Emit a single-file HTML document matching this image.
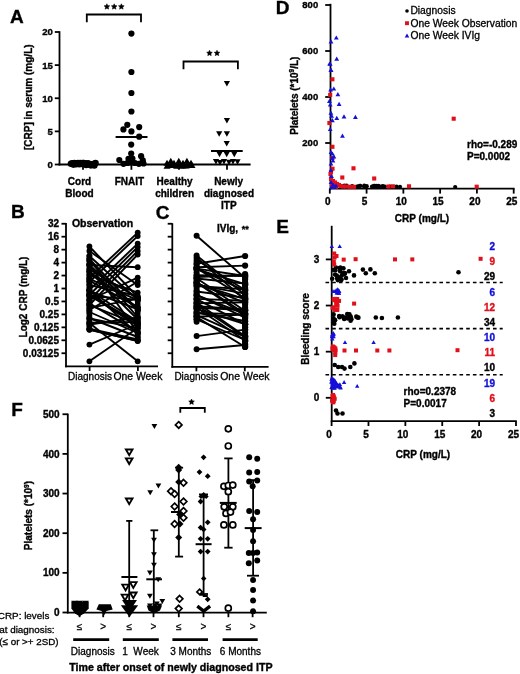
<!DOCTYPE html>
<html><head><meta charset="utf-8"><style>
html,body{margin:0;padding:0;background:#fff;}
svg{display:block;font-family:"Liberation Sans",sans-serif;}
</style></head><body>
<svg width="520" height="674" viewBox="0 0 520 674">
<rect width="520" height="674" fill="#fff"/>
<g style="filter:grayscale(0)">
<text x="10" y="22.9" text-anchor="start" font-size="19" font-weight="bold" fill="#000" stroke="#000" stroke-width="0.35">A</text>
<line x1="59.5" y1="31.2" x2="59.5" y2="165.4" stroke="#000" stroke-width="1.8"/>
<line x1="54.8" y1="164.5" x2="59.5" y2="164.5" stroke="#000" stroke-width="1.8"/>
<text x="52.8" y="167.9" text-anchor="end" font-size="9.6" font-weight="bold" fill="#000" stroke="#000" stroke-width="0.35">0</text>
<line x1="54.8" y1="131.38" x2="59.5" y2="131.38" stroke="#000" stroke-width="1.8"/>
<text x="52.8" y="134.78" text-anchor="end" font-size="9.6" font-weight="bold" fill="#000" stroke="#000" stroke-width="0.35">5</text>
<line x1="54.8" y1="98.25" x2="59.5" y2="98.25" stroke="#000" stroke-width="1.8"/>
<text x="52.8" y="101.65" text-anchor="end" font-size="9.6" font-weight="bold" fill="#000" stroke="#000" stroke-width="0.35">10</text>
<line x1="54.8" y1="65.12" x2="59.5" y2="65.12" stroke="#000" stroke-width="1.8"/>
<text x="52.8" y="68.53" text-anchor="end" font-size="9.6" font-weight="bold" fill="#000" stroke="#000" stroke-width="0.35">15</text>
<line x1="54.8" y1="32" x2="59.5" y2="32" stroke="#000" stroke-width="1.8"/>
<text x="52.8" y="35.4" text-anchor="end" font-size="9.6" font-weight="bold" fill="#000" stroke="#000" stroke-width="0.35">20</text>
<line x1="58.6" y1="164.5" x2="250.6" y2="164.5" stroke="#000" stroke-width="1.8"/>
<line x1="83" y1="164.5" x2="83" y2="169.8" stroke="#000" stroke-width="1.8"/>
<line x1="131.4" y1="164.5" x2="131.4" y2="169.8" stroke="#000" stroke-width="1.8"/>
<line x1="179" y1="164.5" x2="179" y2="169.8" stroke="#000" stroke-width="1.8"/>
<line x1="227" y1="164.5" x2="227" y2="169.8" stroke="#000" stroke-width="1.8"/>
<text x="79.5" y="185" text-anchor="middle" font-size="10" font-weight="bold" fill="#000" stroke="#000" stroke-width="0.35">Cord</text>
<text x="79.5" y="197" text-anchor="middle" font-size="10" font-weight="bold" fill="#000" stroke="#000" stroke-width="0.35">Blood</text>
<text x="129.4" y="185" text-anchor="middle" font-size="10" font-weight="bold" fill="#000" stroke="#000" stroke-width="0.35">FNAIT</text>
<text x="174.6" y="185" text-anchor="middle" font-size="10" font-weight="bold" fill="#000" stroke="#000" stroke-width="0.35">Healthy</text>
<text x="174.6" y="197" text-anchor="middle" font-size="10" font-weight="bold" fill="#000" stroke="#000" stroke-width="0.35">children</text>
<text x="228.6" y="185" text-anchor="middle" font-size="10" font-weight="bold" fill="#000" stroke="#000" stroke-width="0.35">Newly</text>
<text x="229" y="197" text-anchor="middle" font-size="10" font-weight="bold" fill="#000" stroke="#000" stroke-width="0.35">diagnosed</text>
<text x="228.8" y="209" text-anchor="middle" font-size="10" font-weight="bold" fill="#000" stroke="#000" stroke-width="0.35">ITP</text>
<text transform="translate(32,97.2) rotate(-90)" text-anchor="middle" font-size="10" font-weight="bold" stroke="#000" stroke-width="0.35">[CRP] in serum (mg/L)</text>
<polyline points="86.8,22.2 86.8,14.5 141,14.5 141,22.2" fill="none" stroke="#000" stroke-width="1.8"/>
<polygon points="106.9,3.75 107.75,5.59 109.75,5.82 108.27,7.19 108.66,9.18 106.9,8.19 105.14,9.18 105.53,7.19 104.05,5.82 106.05,5.59" fill="#000" stroke="#000" stroke-width="0.5" stroke-linejoin="round"/>
<polygon points="114.2,3.75 115.05,5.59 117.05,5.82 115.57,7.19 115.96,9.18 114.2,8.19 112.44,9.18 112.83,7.19 111.35,5.82 113.35,5.59" fill="#000" stroke="#000" stroke-width="0.5" stroke-linejoin="round"/>
<polygon points="121.35,3.75 122.2,5.59 124.2,5.82 122.72,7.19 123.11,9.18 121.35,8.19 119.59,9.18 119.98,7.19 118.5,5.82 120.5,5.59" fill="#000" stroke="#000" stroke-width="0.5" stroke-linejoin="round"/>
<polyline points="183.5,69.2 183.5,61.5 237.9,61.5 237.9,69.2" fill="none" stroke="#000" stroke-width="1.8"/>
<polygon points="209.5,50.2 210.35,52.04 212.35,52.27 210.87,53.64 211.26,55.63 209.5,54.64 207.74,55.63 208.13,53.64 206.65,52.27 208.65,52.04" fill="#000" stroke="#000" stroke-width="0.5" stroke-linejoin="round"/>
<polygon points="217,50.2 217.85,52.04 219.85,52.27 218.37,53.64 218.76,55.63 217,54.64 215.24,55.63 215.63,53.64 214.15,52.27 216.15,52.04" fill="#000" stroke="#000" stroke-width="0.5" stroke-linejoin="round"/>
<circle cx="71" cy="163.74" r="3.3" fill="#000"/>
<circle cx="72.17" cy="163.29" r="3.3" fill="#000"/>
<circle cx="73.33" cy="164.59" r="3.3" fill="#000"/>
<circle cx="74.5" cy="163.09" r="3.3" fill="#000"/>
<circle cx="75.67" cy="164.29" r="3.3" fill="#000"/>
<circle cx="76.83" cy="163.85" r="3.3" fill="#000"/>
<circle cx="78" cy="163.05" r="3.3" fill="#000"/>
<circle cx="79.17" cy="164.22" r="3.3" fill="#000"/>
<circle cx="80.33" cy="163" r="3.3" fill="#000"/>
<circle cx="81.5" cy="164.03" r="3.3" fill="#000"/>
<circle cx="82.67" cy="163.08" r="3.3" fill="#000"/>
<circle cx="83.83" cy="163.14" r="3.3" fill="#000"/>
<circle cx="85" cy="164" r="3.3" fill="#000"/>
<circle cx="86.17" cy="165.05" r="3.3" fill="#000"/>
<circle cx="87.33" cy="163.22" r="3.3" fill="#000"/>
<circle cx="88.5" cy="163.48" r="3.3" fill="#000"/>
<circle cx="89.67" cy="164.53" r="3.3" fill="#000"/>
<circle cx="90.83" cy="165.36" r="3.3" fill="#000"/>
<circle cx="92" cy="164.4" r="3.3" fill="#000"/>
<circle cx="93.17" cy="163.93" r="3.3" fill="#000"/>
<circle cx="94.33" cy="165.44" r="3.3" fill="#000"/>
<circle cx="95.5" cy="163.02" r="3.3" fill="#000"/>
<circle cx="131.4" cy="33.6" r="3.1" fill="#000"/>
<circle cx="131.4" cy="72" r="3.1" fill="#000"/>
<circle cx="131.4" cy="93" r="3.1" fill="#000"/>
<circle cx="131.4" cy="111.5" r="3.1" fill="#000"/>
<circle cx="127.3" cy="124.8" r="3.1" fill="#000"/>
<circle cx="139.2" cy="127.1" r="3.1" fill="#000"/>
<circle cx="123.4" cy="129.4" r="3.1" fill="#000"/>
<circle cx="131.4" cy="131.4" r="3.1" fill="#000"/>
<circle cx="139.2" cy="136.7" r="3.1" fill="#000"/>
<circle cx="131.2" cy="144.6" r="3.1" fill="#000"/>
<circle cx="131.2" cy="153.5" r="3.1" fill="#000"/>
<circle cx="141.1" cy="156.2" r="3.1" fill="#000"/>
<circle cx="119.3" cy="160" r="3.1" fill="#000"/>
<circle cx="128.5" cy="158.8" r="3.1" fill="#000"/>
<circle cx="132.4" cy="158.5" r="3.1" fill="#000"/>
<circle cx="142.8" cy="160.4" r="3.1" fill="#000"/>
<circle cx="123.5" cy="163.8" r="3.1" fill="#000"/>
<circle cx="127.4" cy="163" r="3.1" fill="#000"/>
<circle cx="135" cy="163" r="3.1" fill="#000"/>
<circle cx="138.9" cy="163.8" r="3.1" fill="#000"/>
<circle cx="131" cy="162.5" r="3.1" fill="#000"/>
<circle cx="143.5" cy="163.5" r="3.1" fill="#000"/>
<line x1="115.6" y1="136.9" x2="147.5" y2="136.9" stroke="#000" stroke-width="2"/>
<polygon points="163.5,168.78 170.5,168.78 167,162.69" fill="#000"/>
<polygon points="165.42,168.09 172.42,168.09 168.92,162" fill="#000"/>
<polygon points="167.35,167.92 174.35,167.92 170.85,161.83" fill="#000"/>
<polygon points="169.27,167.89 176.27,167.89 172.77,161.8" fill="#000"/>
<polygon points="171.19,168.12 178.19,168.12 174.69,162.03" fill="#000"/>
<polygon points="173.12,168.72 180.12,168.72 176.62,162.63" fill="#000"/>
<polygon points="175.04,167.96 182.04,167.96 178.54,161.87" fill="#000"/>
<polygon points="176.96,168.44 183.96,168.44 180.46,162.35" fill="#000"/>
<polygon points="178.88,168.51 185.88,168.51 182.38,162.42" fill="#000"/>
<polygon points="180.81,168.19 187.81,168.19 184.31,162.1" fill="#000"/>
<polygon points="182.73,168.4 189.73,168.4 186.23,162.31" fill="#000"/>
<polygon points="184.65,167.82 191.65,167.82 188.15,161.73" fill="#000"/>
<polygon points="186.58,167.82 193.58,167.82 190.08,161.73" fill="#000"/>
<polygon points="188.5,167.99 195.5,167.99 192,161.9" fill="#000"/>
<polygon points="167.3,163.84 174.3,163.84 170.8,157.76" fill="#000"/>
<polygon points="175.3,163.84 182.3,163.84 178.8,157.76" fill="#000"/>
<polygon points="183.4,163.84 190.4,163.84 186.9,157.76" fill="#000"/>
<polygon points="163.5,165.84 170.5,165.84 167,159.76" fill="#000"/>
<polygon points="170.5,165.84 177.5,165.84 174,159.76" fill="#000"/>
<polygon points="179.5,165.84 186.5,165.84 183,159.76" fill="#000"/>
<polygon points="187.5,165.84 194.5,165.84 191,159.76" fill="#000"/>
<polygon points="223.8,81 230,81 226.9,86.4" fill="#000"/>
<polygon points="223.8,118.1 230,118.1 226.9,123.5" fill="#000"/>
<polygon points="216.1,131.3 222.3,131.3 219.2,136.7" fill="#000"/>
<polygon points="223.8,131.3 230,131.3 226.9,136.7" fill="#000"/>
<polygon points="223.6,141.1 229.8,141.1 226.7,146.5" fill="#000"/>
<polygon points="216.4,151.8 222.6,151.8 219.5,157.2" fill="#000"/>
<polygon points="223.6,151.8 229.8,151.8 226.7,157.2" fill="#000"/>
<polygon points="231.2,151.8 237.4,151.8 234.3,157.2" fill="#000"/>
<polygon points="212.9,159.1 219.1,159.1 216,164.5" fill="#000"/>
<polygon points="216.9,160.1 223.1,160.1 220,165.5" fill="#000"/>
<polygon points="220.9,159.1 227.1,159.1 224,164.5" fill="#000"/>
<polygon points="225.9,159.8 232.1,159.8 229,165.2" fill="#000"/>
<polygon points="229.9,159.1 236.1,159.1 233,164.5" fill="#000"/>
<polygon points="234.4,159.3 240.6,159.3 237.5,164.7" fill="#000"/>
<line x1="211" y1="151" x2="242.7" y2="151" stroke="#000" stroke-width="2"/>
<text x="275.8" y="13.5" text-anchor="start" font-size="19" font-weight="bold" fill="#000" stroke="#000" stroke-width="0.35">D</text>
<line x1="330.5" y1="3.8" x2="330.5" y2="189.4" stroke="#000" stroke-width="1.8"/>
<line x1="325.2" y1="143" x2="330.5" y2="143" stroke="#000" stroke-width="1.8"/>
<text x="318.2" y="146.4" text-anchor="end" font-size="9.5" font-weight="bold" fill="#000" stroke="#000" stroke-width="0.35">200</text>
<line x1="325.2" y1="97" x2="330.5" y2="97" stroke="#000" stroke-width="1.8"/>
<text x="318.2" y="100.4" text-anchor="end" font-size="9.5" font-weight="bold" fill="#000" stroke="#000" stroke-width="0.35">400</text>
<line x1="325.2" y1="51" x2="330.5" y2="51" stroke="#000" stroke-width="1.8"/>
<text x="318.2" y="54.4" text-anchor="end" font-size="9.5" font-weight="bold" fill="#000" stroke="#000" stroke-width="0.35">600</text>
<line x1="325.2" y1="5" x2="330.5" y2="5" stroke="#000" stroke-width="1.8"/>
<text x="318.2" y="8.4" text-anchor="end" font-size="9.5" font-weight="bold" fill="#000" stroke="#000" stroke-width="0.35">800</text>
<line x1="329.6" y1="188.6" x2="514.6" y2="188.6" stroke="#000" stroke-width="1.8"/>
<line x1="329.8" y1="188.6" x2="329.8" y2="193.6" stroke="#000" stroke-width="1.8"/>
<text x="327.8" y="205.2" text-anchor="middle" font-size="10" font-weight="bold" fill="#000" stroke="#000" stroke-width="0.35">0</text>
<line x1="366.58" y1="188.6" x2="366.58" y2="193.6" stroke="#000" stroke-width="1.8"/>
<text x="364.58" y="205.2" text-anchor="middle" font-size="10" font-weight="bold" fill="#000" stroke="#000" stroke-width="0.35">5</text>
<line x1="403.36" y1="188.6" x2="403.36" y2="193.6" stroke="#000" stroke-width="1.8"/>
<text x="401.36" y="205.2" text-anchor="middle" font-size="10" font-weight="bold" fill="#000" stroke="#000" stroke-width="0.35">10</text>
<line x1="440.14" y1="188.6" x2="440.14" y2="193.6" stroke="#000" stroke-width="1.8"/>
<text x="438.14" y="205.2" text-anchor="middle" font-size="10" font-weight="bold" fill="#000" stroke="#000" stroke-width="0.35">15</text>
<line x1="476.92" y1="188.6" x2="476.92" y2="193.6" stroke="#000" stroke-width="1.8"/>
<text x="474.92" y="205.2" text-anchor="middle" font-size="10" font-weight="bold" fill="#000" stroke="#000" stroke-width="0.35">20</text>
<line x1="513.7" y1="188.6" x2="513.7" y2="193.6" stroke="#000" stroke-width="1.8"/>
<text x="511.7" y="205.2" text-anchor="middle" font-size="10" font-weight="bold" fill="#000" stroke="#000" stroke-width="0.35">25</text>
<text x="422" y="222.2" text-anchor="middle" font-size="10" font-weight="bold" fill="#000" stroke="#000" stroke-width="0.35">CRP (mg/L)</text>
<text transform="translate(297.6,95.6) rotate(-90)" text-anchor="middle" font-size="10" font-weight="bold" stroke="#000" stroke-width="0.35">Platelets (*10<tspan font-size="6.5" dy="-3.5">9</tspan><tspan dy="3.5">/L)</tspan></text>
<circle cx="407" cy="11" r="1.8" fill="#000"/>
<text x="410.4" y="14.3" text-anchor="start" font-size="10" font-weight="normal" fill="#000" stroke="#000" stroke-width="0.3" textLength="45.23" lengthAdjust="spacingAndGlyphs">Diagnosis</text>
<rect x="405.05" y="21.25" width="3.9" height="3.9" fill="#e0101a"/>
<text x="410.4" y="26.5" text-anchor="start" font-size="10" font-weight="normal" fill="#000" stroke="#000" stroke-width="0.3" textLength="106.86" lengthAdjust="spacingAndGlyphs">One Week Observation</text>
<polygon points="404.7,37.4 409.3,37.4 407,33.4" fill="#1410d8"/>
<text x="410.4" y="38.8" text-anchor="start" font-size="10" font-weight="normal" fill="#000" stroke="#000" stroke-width="0.3" textLength="69.65" lengthAdjust="spacingAndGlyphs">One Week IVIg</text>
<text x="467" y="147.5" text-anchor="start" font-size="10" font-weight="bold" fill="#000" stroke="#000" stroke-width="0.35">rho=-0.289</text>
<text x="467" y="159.6" text-anchor="start" font-size="10" font-weight="bold" fill="#000" stroke="#000" stroke-width="0.35">P=0.0002</text>
<circle cx="343.25" cy="186.43" r="2.1" fill="#000"/>
<circle cx="366.75" cy="186.17" r="2.1" fill="#000"/>
<circle cx="345.8" cy="186.55" r="2.1" fill="#000"/>
<circle cx="375.39" cy="186.21" r="2.1" fill="#000"/>
<circle cx="360.25" cy="185.88" r="2.1" fill="#000"/>
<circle cx="335.16" cy="186.05" r="2.1" fill="#000"/>
<circle cx="364.27" cy="185.68" r="2.1" fill="#000"/>
<circle cx="374.69" cy="185.88" r="2.1" fill="#000"/>
<circle cx="346.63" cy="185.65" r="2.1" fill="#000"/>
<circle cx="384.88" cy="186.49" r="2.1" fill="#000"/>
<circle cx="378.75" cy="186.34" r="2.1" fill="#000"/>
<circle cx="336.7" cy="185.99" r="2.1" fill="#000"/>
<circle cx="359.88" cy="185.74" r="2.1" fill="#000"/>
<circle cx="382.6" cy="186.04" r="2.1" fill="#000"/>
<circle cx="342.74" cy="186.58" r="2.1" fill="#000"/>
<circle cx="341.24" cy="186.71" r="2.1" fill="#000"/>
<circle cx="357.66" cy="186.26" r="2.1" fill="#000"/>
<circle cx="352.15" cy="186.18" r="2.1" fill="#000"/>
<circle cx="344.35" cy="185.64" r="2.1" fill="#000"/>
<circle cx="378.29" cy="185.88" r="2.1" fill="#000"/>
<circle cx="374.01" cy="185.85" r="2.1" fill="#000"/>
<circle cx="383.44" cy="186.67" r="2.1" fill="#000"/>
<circle cx="372.74" cy="186.52" r="2.1" fill="#000"/>
<circle cx="364.04" cy="186.48" r="2.1" fill="#000"/>
<circle cx="341.12" cy="186.17" r="2.1" fill="#000"/>
<circle cx="376.35" cy="185.84" r="2.1" fill="#000"/>
<circle cx="455.2" cy="187" r="2.1" fill="#000"/>
<circle cx="400" cy="186.8" r="2.1" fill="#000"/>
<circle cx="396.5" cy="186.6" r="2.1" fill="#000"/>
<circle cx="390" cy="186.6" r="2.1" fill="#000"/>
<circle cx="380" cy="186.6" r="2.1" fill="#000"/>
<circle cx="372" cy="186.6" r="2.1" fill="#000"/>
<circle cx="365" cy="186.5" r="2.1" fill="#000"/>
<rect x="330.35" y="77.25" width="4.1" height="4.1" fill="#e0101a"/>
<rect x="328.15" y="92.85" width="4.1" height="4.1" fill="#e0101a"/>
<rect x="327.35" y="120.95" width="4.1" height="4.1" fill="#e0101a"/>
<rect x="330.35" y="144.75" width="4.1" height="4.1" fill="#e0101a"/>
<rect x="330.35" y="155.95" width="4.1" height="4.1" fill="#e0101a"/>
<rect x="330.45" y="166.65" width="4.1" height="4.1" fill="#e0101a"/>
<rect x="328.95" y="169.75" width="4.1" height="4.1" fill="#e0101a"/>
<rect x="351.45" y="166.25" width="4.1" height="4.1" fill="#e0101a"/>
<rect x="340.25" y="175.45" width="4.1" height="4.1" fill="#e0101a"/>
<rect x="372.15" y="176.45" width="4.1" height="4.1" fill="#e0101a"/>
<rect x="451.65" y="116.65" width="4.1" height="4.1" fill="#e0101a"/>
<rect x="474.65" y="184.65" width="4.1" height="4.1" fill="#e0101a"/>
<rect x="390.85" y="184.25" width="4.1" height="4.1" fill="#e0101a"/>
<rect x="406.95" y="184.25" width="4.1" height="4.1" fill="#e0101a"/>
<rect x="386.45" y="184.45" width="4.1" height="4.1" fill="#e0101a"/>
<rect x="328.95" y="176.95" width="4.1" height="4.1" fill="#e0101a"/>
<rect x="330.95" y="178.95" width="4.1" height="4.1" fill="#e0101a"/>
<rect x="332.95" y="180.45" width="4.1" height="4.1" fill="#e0101a"/>
<rect x="334.95" y="181.95" width="4.1" height="4.1" fill="#e0101a"/>
<rect x="336.95" y="182.95" width="4.1" height="4.1" fill="#e0101a"/>
<rect x="338.95" y="183.95" width="4.1" height="4.1" fill="#e0101a"/>
<rect x="340.95" y="184.45" width="4.1" height="4.1" fill="#e0101a"/>
<rect x="329.95" y="182.95" width="4.1" height="4.1" fill="#e0101a"/>
<rect x="331.95" y="184.45" width="4.1" height="4.1" fill="#e0101a"/>
<rect x="328.45" y="171.95" width="4.1" height="4.1" fill="#e0101a"/>
<rect x="333.95" y="184.95" width="4.1" height="4.1" fill="#e0101a"/>
<rect x="343.95" y="184.45" width="4.1" height="4.1" fill="#e0101a"/>
<rect x="347.95" y="184.75" width="4.1" height="4.1" fill="#e0101a"/>
<rect x="351.95" y="184.75" width="4.1" height="4.1" fill="#e0101a"/>
<polygon points="333.9,39.59 338.7,39.59 336.3,35.41" fill="#1410d8"/>
<polygon points="328.6,43.39 333.4,43.39 331,39.21" fill="#1410d8"/>
<polygon points="334.3,60.79 339.1,60.79 336.7,56.61" fill="#1410d8"/>
<polygon points="327.2,65.59 332,65.59 329.6,61.41" fill="#1410d8"/>
<polygon points="328.6,72.09 333.4,72.09 331,67.91" fill="#1410d8"/>
<polygon points="331.4,90.59 336.2,90.59 333.8,86.41" fill="#1410d8"/>
<polygon points="335.5,96.29 340.3,96.29 337.9,92.11" fill="#1410d8"/>
<polygon points="328.2,91.49 333,91.49 330.6,87.31" fill="#1410d8"/>
<polygon points="327.8,65.79 332.6,65.79 330.2,61.61" fill="#1410d8"/>
<polygon points="328.5,71.69 333.3,71.69 330.9,67.51" fill="#1410d8"/>
<polygon points="327,102.89 331.8,102.89 329.4,98.71" fill="#1410d8"/>
<polygon points="327.8,106.59 332.6,106.59 330.2,102.41" fill="#1410d8"/>
<polygon points="336.7,105.89 341.5,105.89 339.1,101.71" fill="#1410d8"/>
<polygon points="328.5,114.79 333.3,114.79 330.9,110.61" fill="#1410d8"/>
<polygon points="329.2,117.69 334,117.69 331.6,113.51" fill="#1410d8"/>
<polygon points="334.4,119.99 339.2,119.99 336.8,115.81" fill="#1410d8"/>
<polygon points="341.6,118.49 346.4,118.49 344,114.31" fill="#1410d8"/>
<polygon points="353,118.89 357.8,118.89 355.4,114.71" fill="#1410d8"/>
<polygon points="330,122.19 334.8,122.19 332.4,118.01" fill="#1410d8"/>
<polygon points="327.8,131.09 332.6,131.09 330.2,126.91" fill="#1410d8"/>
<polygon points="340.1,137.79 344.9,137.79 342.5,133.61" fill="#1410d8"/>
<polygon points="330,155.59 334.8,155.59 332.4,151.41" fill="#1410d8"/>
<polygon points="331.5,158.49 336.3,158.49 333.9,154.31" fill="#1410d8"/>
<polygon points="328.6,154.09 333.4,154.09 331,149.91" fill="#1410d8"/>
<polygon points="329.6,160.09 334.4,160.09 332,155.91" fill="#1410d8"/>
<polygon points="328.6,165.59 333.4,165.59 331,161.41" fill="#1410d8"/>
<polygon points="329.1,178.09 333.9,178.09 331.5,173.91" fill="#1410d8"/>
<polygon points="328.6,184.09 333.4,184.09 331,179.91" fill="#1410d8"/>
<polygon points="330.6,186.59 335.4,186.59 333,182.41" fill="#1410d8"/>
<polygon points="329.1,189.09 333.9,189.09 331.5,184.91" fill="#1410d8"/>
<polygon points="332.1,189.09 336.9,189.09 334.5,184.91" fill="#1410d8"/>
<polygon points="333.6,187.59 338.4,187.59 336,183.41" fill="#1410d8"/>
<polygon points="328.6,172.09 333.4,172.09 331,167.91" fill="#1410d8"/>
<polygon points="330.6,162.59 335.4,162.59 333,158.41" fill="#1410d8"/>
<text x="11" y="217.9" text-anchor="start" font-size="19" font-weight="bold" fill="#000" stroke="#000" stroke-width="0.35">B</text>
<line x1="66" y1="223" x2="66" y2="367.2" stroke="#000" stroke-width="1.8"/>
<line x1="61.5" y1="223.75" x2="66" y2="223.75" stroke="#000" stroke-width="1.8"/>
<text x="59" y="227.35" text-anchor="end" font-size="10" font-weight="bold" fill="#000" stroke="#000" stroke-width="0.35">32</text>
<line x1="61.5" y1="236.7" x2="66" y2="236.7" stroke="#000" stroke-width="1.8"/>
<text x="59" y="240.3" text-anchor="end" font-size="10" font-weight="bold" fill="#000" stroke="#000" stroke-width="0.35">16</text>
<line x1="61.5" y1="249.65" x2="66" y2="249.65" stroke="#000" stroke-width="1.8"/>
<text x="59" y="253.25" text-anchor="end" font-size="10" font-weight="bold" fill="#000" stroke="#000" stroke-width="0.35">8</text>
<line x1="61.5" y1="262.6" x2="66" y2="262.6" stroke="#000" stroke-width="1.8"/>
<text x="59" y="266.2" text-anchor="end" font-size="10" font-weight="bold" fill="#000" stroke="#000" stroke-width="0.35">4</text>
<line x1="61.5" y1="275.55" x2="66" y2="275.55" stroke="#000" stroke-width="1.8"/>
<text x="59" y="279.15" text-anchor="end" font-size="10" font-weight="bold" fill="#000" stroke="#000" stroke-width="0.35">2</text>
<line x1="61.5" y1="288.5" x2="66" y2="288.5" stroke="#000" stroke-width="1.8"/>
<text x="59" y="292.1" text-anchor="end" font-size="10" font-weight="bold" fill="#000" stroke="#000" stroke-width="0.35">1</text>
<line x1="61.5" y1="301.45" x2="66" y2="301.45" stroke="#000" stroke-width="1.8"/>
<text x="59" y="305.05" text-anchor="end" font-size="10" font-weight="bold" fill="#000" stroke="#000" stroke-width="0.35">0.5</text>
<line x1="61.5" y1="314.4" x2="66" y2="314.4" stroke="#000" stroke-width="1.8"/>
<text x="59" y="318" text-anchor="end" font-size="10" font-weight="bold" fill="#000" stroke="#000" stroke-width="0.35">0.25</text>
<line x1="61.5" y1="327.35" x2="66" y2="327.35" stroke="#000" stroke-width="1.8"/>
<text x="59" y="330.95" text-anchor="end" font-size="10" font-weight="bold" fill="#000" stroke="#000" stroke-width="0.35">0.125</text>
<line x1="61.5" y1="340.3" x2="66" y2="340.3" stroke="#000" stroke-width="1.8"/>
<text x="59" y="343.9" text-anchor="end" font-size="10" font-weight="bold" fill="#000" stroke="#000" stroke-width="0.35">0.0625</text>
<line x1="61.5" y1="353.25" x2="66" y2="353.25" stroke="#000" stroke-width="1.8"/>
<text x="59" y="356.85" text-anchor="end" font-size="10" font-weight="bold" fill="#000" stroke="#000" stroke-width="0.35">0.03125</text>
<line x1="65.1" y1="366.3" x2="158" y2="366.3" stroke="#000" stroke-width="1.8"/>
<line x1="89.6" y1="366.3" x2="89.6" y2="371" stroke="#000" stroke-width="1.8"/>
<line x1="137.9" y1="366.3" x2="137.9" y2="371" stroke="#000" stroke-width="1.8"/>
<text x="68" y="380.4" text-anchor="start" font-size="10" font-weight="normal" fill="#000" stroke="#000" stroke-width="0.3">Diagnosis</text>
<text x="113.4" y="380.4" text-anchor="start" font-size="10" font-weight="normal" fill="#000" stroke="#000" stroke-width="0.3" textLength="48.94" lengthAdjust="spacingAndGlyphs">One Week</text>
<text x="71.9" y="226.5" text-anchor="start" font-size="10" font-weight="bold" fill="#000" stroke="#000" stroke-width="0.35" textLength="61.26" lengthAdjust="spacingAndGlyphs">Observation</text>
<text transform="translate(27.3,297) rotate(-90)" text-anchor="middle" font-size="10" font-weight="bold" stroke="#000" stroke-width="0.35">Log2 CRP (mg/L)</text>
<text x="155.8" y="219" text-anchor="start" font-size="19" font-weight="bold" fill="#000" stroke="#000" stroke-width="0.35">C</text>
<line x1="172.3" y1="223.2" x2="172.3" y2="367.7" stroke="#000" stroke-width="1.8"/>
<line x1="167.7" y1="223.75" x2="172.3" y2="223.75" stroke="#000" stroke-width="1.8"/>
<line x1="167.7" y1="236.7" x2="172.3" y2="236.7" stroke="#000" stroke-width="1.8"/>
<line x1="167.7" y1="249.65" x2="172.3" y2="249.65" stroke="#000" stroke-width="1.8"/>
<line x1="167.7" y1="262.6" x2="172.3" y2="262.6" stroke="#000" stroke-width="1.8"/>
<line x1="167.7" y1="275.55" x2="172.3" y2="275.55" stroke="#000" stroke-width="1.8"/>
<line x1="167.7" y1="288.5" x2="172.3" y2="288.5" stroke="#000" stroke-width="1.8"/>
<line x1="167.7" y1="301.45" x2="172.3" y2="301.45" stroke="#000" stroke-width="1.8"/>
<line x1="167.7" y1="314.4" x2="172.3" y2="314.4" stroke="#000" stroke-width="1.8"/>
<line x1="167.7" y1="327.35" x2="172.3" y2="327.35" stroke="#000" stroke-width="1.8"/>
<line x1="167.7" y1="340.3" x2="172.3" y2="340.3" stroke="#000" stroke-width="1.8"/>
<line x1="167.7" y1="353.25" x2="172.3" y2="353.25" stroke="#000" stroke-width="1.8"/>
<line x1="171.4" y1="366.8" x2="268.6" y2="366.8" stroke="#000" stroke-width="1.8"/>
<line x1="196.4" y1="366.8" x2="196.4" y2="371.3" stroke="#000" stroke-width="1.8"/>
<line x1="244.8" y1="366.8" x2="244.8" y2="371.3" stroke="#000" stroke-width="1.8"/>
<text x="174.4" y="380.4" text-anchor="start" font-size="10" font-weight="normal" fill="#000" stroke="#000" stroke-width="0.3">Diagnosis</text>
<text x="220.2" y="380.4" text-anchor="start" font-size="10" font-weight="normal" fill="#000" stroke="#000" stroke-width="0.3" textLength="49.41" lengthAdjust="spacingAndGlyphs">One Week</text>
<text x="217" y="232" text-anchor="start" font-size="10" font-weight="bold" fill="#000" stroke="#000" stroke-width="0.35">IVIg, </text>
<text x="241.8" y="232" text-anchor="start" font-size="9" font-weight="bold" fill="#000" stroke="#000" stroke-width="0.35">**</text>
<line x1="89.4" y1="278" x2="137.7" y2="232.6" stroke="#000" stroke-width="1.9"/>
<line x1="89.4" y1="282" x2="137.7" y2="236" stroke="#000" stroke-width="1.9"/>
<line x1="89.4" y1="290" x2="137.7" y2="243.6" stroke="#000" stroke-width="1.9"/>
<line x1="89.4" y1="295" x2="137.7" y2="247" stroke="#000" stroke-width="1.9"/>
<line x1="89.4" y1="300" x2="137.7" y2="251" stroke="#000" stroke-width="1.9"/>
<line x1="89.4" y1="305" x2="137.7" y2="254.5" stroke="#000" stroke-width="1.9"/>
<line x1="89.4" y1="246.5" x2="137.7" y2="297" stroke="#000" stroke-width="1.9"/>
<line x1="89.4" y1="251" x2="137.7" y2="285" stroke="#000" stroke-width="1.9"/>
<line x1="89.4" y1="256" x2="137.7" y2="300" stroke="#000" stroke-width="1.9"/>
<line x1="89.4" y1="259" x2="137.7" y2="310" stroke="#000" stroke-width="1.9"/>
<line x1="89.4" y1="265" x2="137.7" y2="267.2" stroke="#000" stroke-width="1.9"/>
<line x1="89.4" y1="300" x2="137.7" y2="277.6" stroke="#000" stroke-width="1.9"/>
<line x1="89.4" y1="310" x2="137.7" y2="281.7" stroke="#000" stroke-width="1.9"/>
<line x1="89.4" y1="275" x2="137.7" y2="292.6" stroke="#000" stroke-width="1.9"/>
<line x1="89.4" y1="285" x2="137.7" y2="296" stroke="#000" stroke-width="1.9"/>
<line x1="89.4" y1="361.3" x2="137.7" y2="328" stroke="#000" stroke-width="1.9"/>
<line x1="89.4" y1="344.6" x2="137.7" y2="324" stroke="#000" stroke-width="1.9"/>
<line x1="89.4" y1="323" x2="137.7" y2="361.3" stroke="#000" stroke-width="1.9"/>
<line x1="89.4" y1="329.6" x2="137.7" y2="341" stroke="#000" stroke-width="1.9"/>
<line x1="89.4" y1="322.7" x2="137.7" y2="322" stroke="#000" stroke-width="1.9"/>
<line x1="89.4" y1="318" x2="137.7" y2="337" stroke="#000" stroke-width="1.9"/>
<line x1="89.4" y1="312" x2="137.7" y2="333" stroke="#000" stroke-width="1.9"/>
<line x1="89.4" y1="290.57" x2="137.7" y2="321.63" stroke="#000" stroke-width="1.9"/>
<line x1="89.4" y1="324.54" x2="137.7" y2="317.49" stroke="#000" stroke-width="1.9"/>
<line x1="89.4" y1="294.56" x2="137.7" y2="322.84" stroke="#000" stroke-width="1.9"/>
<line x1="89.4" y1="271.3" x2="137.7" y2="319.52" stroke="#000" stroke-width="1.9"/>
<line x1="89.4" y1="303.35" x2="137.7" y2="331.89" stroke="#000" stroke-width="1.9"/>
<line x1="89.4" y1="264.78" x2="137.7" y2="310.35" stroke="#000" stroke-width="1.9"/>
<line x1="89.4" y1="264.53" x2="137.7" y2="332.62" stroke="#000" stroke-width="1.9"/>
<line x1="89.4" y1="307.93" x2="137.7" y2="298.84" stroke="#000" stroke-width="1.9"/>
<line x1="89.4" y1="328.72" x2="137.7" y2="339.45" stroke="#000" stroke-width="1.9"/>
<line x1="89.4" y1="305.08" x2="137.7" y2="324.08" stroke="#000" stroke-width="1.9"/>
<line x1="89.4" y1="269.34" x2="137.7" y2="297.66" stroke="#000" stroke-width="1.9"/>
<line x1="89.4" y1="296.04" x2="137.7" y2="299.62" stroke="#000" stroke-width="1.9"/>
<line x1="89.4" y1="271.69" x2="137.7" y2="307.65" stroke="#000" stroke-width="1.9"/>
<line x1="89.4" y1="260.17" x2="137.7" y2="317.41" stroke="#000" stroke-width="1.9"/>
<line x1="89.4" y1="289.72" x2="137.7" y2="334.07" stroke="#000" stroke-width="1.9"/>
<line x1="89.4" y1="295.38" x2="137.7" y2="325.17" stroke="#000" stroke-width="1.9"/>
<line x1="89.4" y1="293.98" x2="137.7" y2="326.15" stroke="#000" stroke-width="1.9"/>
<line x1="89.4" y1="290.93" x2="137.7" y2="309.24" stroke="#000" stroke-width="1.9"/>
<line x1="89.4" y1="329.83" x2="137.7" y2="340.81" stroke="#000" stroke-width="1.9"/>
<line x1="89.4" y1="318.5" x2="137.7" y2="328.14" stroke="#000" stroke-width="1.9"/>
<line x1="89.4" y1="280.7" x2="137.7" y2="307.11" stroke="#000" stroke-width="1.9"/>
<line x1="89.4" y1="278.81" x2="137.7" y2="300.09" stroke="#000" stroke-width="1.9"/>
<circle cx="89.4" cy="278" r="2.9" fill="#000"/>
<circle cx="137.7" cy="232.6" r="2.9" fill="#000"/>
<circle cx="89.4" cy="282" r="2.9" fill="#000"/>
<circle cx="137.7" cy="236" r="2.9" fill="#000"/>
<circle cx="89.4" cy="290" r="2.9" fill="#000"/>
<circle cx="137.7" cy="243.6" r="2.9" fill="#000"/>
<circle cx="89.4" cy="295" r="2.9" fill="#000"/>
<circle cx="137.7" cy="247" r="2.9" fill="#000"/>
<circle cx="89.4" cy="300" r="2.9" fill="#000"/>
<circle cx="137.7" cy="251" r="2.9" fill="#000"/>
<circle cx="89.4" cy="305" r="2.9" fill="#000"/>
<circle cx="137.7" cy="254.5" r="2.9" fill="#000"/>
<circle cx="89.4" cy="246.5" r="2.9" fill="#000"/>
<circle cx="137.7" cy="297" r="2.9" fill="#000"/>
<circle cx="89.4" cy="251" r="2.9" fill="#000"/>
<circle cx="137.7" cy="285" r="2.9" fill="#000"/>
<circle cx="89.4" cy="256" r="2.9" fill="#000"/>
<circle cx="137.7" cy="300" r="2.9" fill="#000"/>
<circle cx="89.4" cy="259" r="2.9" fill="#000"/>
<circle cx="137.7" cy="310" r="2.9" fill="#000"/>
<circle cx="89.4" cy="265" r="2.9" fill="#000"/>
<circle cx="137.7" cy="267.2" r="2.9" fill="#000"/>
<circle cx="89.4" cy="300" r="2.9" fill="#000"/>
<circle cx="137.7" cy="277.6" r="2.9" fill="#000"/>
<circle cx="89.4" cy="310" r="2.9" fill="#000"/>
<circle cx="137.7" cy="281.7" r="2.9" fill="#000"/>
<circle cx="89.4" cy="275" r="2.9" fill="#000"/>
<circle cx="137.7" cy="292.6" r="2.9" fill="#000"/>
<circle cx="89.4" cy="285" r="2.9" fill="#000"/>
<circle cx="137.7" cy="296" r="2.9" fill="#000"/>
<circle cx="89.4" cy="361.3" r="2.9" fill="#000"/>
<circle cx="137.7" cy="328" r="2.9" fill="#000"/>
<circle cx="89.4" cy="344.6" r="2.9" fill="#000"/>
<circle cx="137.7" cy="324" r="2.9" fill="#000"/>
<circle cx="89.4" cy="323" r="2.9" fill="#000"/>
<circle cx="137.7" cy="361.3" r="2.9" fill="#000"/>
<circle cx="89.4" cy="329.6" r="2.9" fill="#000"/>
<circle cx="137.7" cy="341" r="2.9" fill="#000"/>
<circle cx="89.4" cy="322.7" r="2.9" fill="#000"/>
<circle cx="137.7" cy="322" r="2.9" fill="#000"/>
<circle cx="89.4" cy="318" r="2.9" fill="#000"/>
<circle cx="137.7" cy="337" r="2.9" fill="#000"/>
<circle cx="89.4" cy="312" r="2.9" fill="#000"/>
<circle cx="137.7" cy="333" r="2.9" fill="#000"/>
<circle cx="89.4" cy="290.57" r="2.9" fill="#000"/>
<circle cx="137.7" cy="321.63" r="2.9" fill="#000"/>
<circle cx="89.4" cy="324.54" r="2.9" fill="#000"/>
<circle cx="137.7" cy="317.49" r="2.9" fill="#000"/>
<circle cx="89.4" cy="294.56" r="2.9" fill="#000"/>
<circle cx="137.7" cy="322.84" r="2.9" fill="#000"/>
<circle cx="89.4" cy="271.3" r="2.9" fill="#000"/>
<circle cx="137.7" cy="319.52" r="2.9" fill="#000"/>
<circle cx="89.4" cy="303.35" r="2.9" fill="#000"/>
<circle cx="137.7" cy="331.89" r="2.9" fill="#000"/>
<circle cx="89.4" cy="264.78" r="2.9" fill="#000"/>
<circle cx="137.7" cy="310.35" r="2.9" fill="#000"/>
<circle cx="89.4" cy="264.53" r="2.9" fill="#000"/>
<circle cx="137.7" cy="332.62" r="2.9" fill="#000"/>
<circle cx="89.4" cy="307.93" r="2.9" fill="#000"/>
<circle cx="137.7" cy="298.84" r="2.9" fill="#000"/>
<circle cx="89.4" cy="328.72" r="2.9" fill="#000"/>
<circle cx="137.7" cy="339.45" r="2.9" fill="#000"/>
<circle cx="89.4" cy="305.08" r="2.9" fill="#000"/>
<circle cx="137.7" cy="324.08" r="2.9" fill="#000"/>
<circle cx="89.4" cy="269.34" r="2.9" fill="#000"/>
<circle cx="137.7" cy="297.66" r="2.9" fill="#000"/>
<circle cx="89.4" cy="296.04" r="2.9" fill="#000"/>
<circle cx="137.7" cy="299.62" r="2.9" fill="#000"/>
<circle cx="89.4" cy="271.69" r="2.9" fill="#000"/>
<circle cx="137.7" cy="307.65" r="2.9" fill="#000"/>
<circle cx="89.4" cy="260.17" r="2.9" fill="#000"/>
<circle cx="137.7" cy="317.41" r="2.9" fill="#000"/>
<circle cx="89.4" cy="289.72" r="2.9" fill="#000"/>
<circle cx="137.7" cy="334.07" r="2.9" fill="#000"/>
<circle cx="89.4" cy="295.38" r="2.9" fill="#000"/>
<circle cx="137.7" cy="325.17" r="2.9" fill="#000"/>
<circle cx="89.4" cy="293.98" r="2.9" fill="#000"/>
<circle cx="137.7" cy="326.15" r="2.9" fill="#000"/>
<circle cx="89.4" cy="290.93" r="2.9" fill="#000"/>
<circle cx="137.7" cy="309.24" r="2.9" fill="#000"/>
<circle cx="89.4" cy="329.83" r="2.9" fill="#000"/>
<circle cx="137.7" cy="340.81" r="2.9" fill="#000"/>
<circle cx="89.4" cy="318.5" r="2.9" fill="#000"/>
<circle cx="137.7" cy="328.14" r="2.9" fill="#000"/>
<circle cx="89.4" cy="280.7" r="2.9" fill="#000"/>
<circle cx="137.7" cy="307.11" r="2.9" fill="#000"/>
<circle cx="89.4" cy="278.81" r="2.9" fill="#000"/>
<circle cx="137.7" cy="300.09" r="2.9" fill="#000"/>
<circle cx="89.4" cy="256" r="2.9" fill="#000"/>
<circle cx="89.4" cy="258.6" r="2.9" fill="#000"/>
<circle cx="89.4" cy="261.2" r="2.9" fill="#000"/>
<circle cx="89.4" cy="263.8" r="2.9" fill="#000"/>
<circle cx="89.4" cy="266.4" r="2.9" fill="#000"/>
<circle cx="89.4" cy="269" r="2.9" fill="#000"/>
<circle cx="89.4" cy="271.6" r="2.9" fill="#000"/>
<circle cx="89.4" cy="274.2" r="2.9" fill="#000"/>
<circle cx="89.4" cy="276.8" r="2.9" fill="#000"/>
<circle cx="89.4" cy="279.4" r="2.9" fill="#000"/>
<circle cx="89.4" cy="282" r="2.9" fill="#000"/>
<circle cx="89.4" cy="284.6" r="2.9" fill="#000"/>
<circle cx="89.4" cy="287.2" r="2.9" fill="#000"/>
<circle cx="89.4" cy="289.8" r="2.9" fill="#000"/>
<circle cx="89.4" cy="292.4" r="2.9" fill="#000"/>
<circle cx="89.4" cy="295" r="2.9" fill="#000"/>
<circle cx="89.4" cy="297.6" r="2.9" fill="#000"/>
<circle cx="89.4" cy="300.2" r="2.9" fill="#000"/>
<circle cx="89.4" cy="302.8" r="2.9" fill="#000"/>
<circle cx="89.4" cy="305.4" r="2.9" fill="#000"/>
<circle cx="89.4" cy="308" r="2.9" fill="#000"/>
<circle cx="89.4" cy="310.6" r="2.9" fill="#000"/>
<circle cx="89.4" cy="313.2" r="2.9" fill="#000"/>
<circle cx="89.4" cy="315.8" r="2.9" fill="#000"/>
<circle cx="89.4" cy="318.4" r="2.9" fill="#000"/>
<circle cx="89.4" cy="321" r="2.9" fill="#000"/>
<circle cx="89.4" cy="323.6" r="2.9" fill="#000"/>
<circle cx="89.4" cy="326.2" r="2.9" fill="#000"/>
<circle cx="89.4" cy="328.8" r="2.9" fill="#000"/>
<circle cx="137.7" cy="298" r="2.9" fill="#000"/>
<circle cx="137.7" cy="301" r="2.9" fill="#000"/>
<circle cx="137.7" cy="304" r="2.9" fill="#000"/>
<circle cx="137.7" cy="307" r="2.9" fill="#000"/>
<circle cx="137.7" cy="310" r="2.9" fill="#000"/>
<circle cx="137.7" cy="313" r="2.9" fill="#000"/>
<circle cx="137.7" cy="316" r="2.9" fill="#000"/>
<circle cx="137.7" cy="319" r="2.9" fill="#000"/>
<circle cx="137.7" cy="322" r="2.9" fill="#000"/>
<circle cx="137.7" cy="325" r="2.9" fill="#000"/>
<circle cx="137.7" cy="328" r="2.9" fill="#000"/>
<circle cx="137.7" cy="331" r="2.9" fill="#000"/>
<circle cx="137.7" cy="334" r="2.9" fill="#000"/>
<circle cx="137.7" cy="337" r="2.9" fill="#000"/>
<circle cx="137.7" cy="340" r="2.9" fill="#000"/>
<line x1="196.6" y1="235.8" x2="245.1" y2="278" stroke="#000" stroke-width="1.9"/>
<line x1="196.6" y1="255.4" x2="245.1" y2="295" stroke="#000" stroke-width="1.9"/>
<line x1="196.6" y1="257.8" x2="245.1" y2="300" stroke="#000" stroke-width="1.9"/>
<line x1="196.6" y1="263.8" x2="245.1" y2="256" stroke="#000" stroke-width="1.9"/>
<line x1="196.6" y1="267.3" x2="245.1" y2="265.6" stroke="#000" stroke-width="1.9"/>
<line x1="196.6" y1="336.1" x2="245.1" y2="329.6" stroke="#000" stroke-width="1.9"/>
<line x1="196.6" y1="349.2" x2="245.1" y2="345" stroke="#000" stroke-width="1.9"/>
<line x1="196.6" y1="319.4" x2="245.1" y2="340" stroke="#000" stroke-width="1.9"/>
<line x1="196.6" y1="277" x2="245.1" y2="275.1" stroke="#000" stroke-width="1.9"/>
<line x1="196.6" y1="260" x2="245.1" y2="290" stroke="#000" stroke-width="1.9"/>
<line x1="196.6" y1="299.15" x2="245.1" y2="324.33" stroke="#000" stroke-width="1.9"/>
<line x1="196.6" y1="307.76" x2="245.1" y2="340.57" stroke="#000" stroke-width="1.9"/>
<line x1="196.6" y1="304.99" x2="245.1" y2="337.04" stroke="#000" stroke-width="1.9"/>
<line x1="196.6" y1="269.45" x2="245.1" y2="284.14" stroke="#000" stroke-width="1.9"/>
<line x1="196.6" y1="315.17" x2="245.1" y2="336.83" stroke="#000" stroke-width="1.9"/>
<line x1="196.6" y1="313.05" x2="245.1" y2="314.35" stroke="#000" stroke-width="1.9"/>
<line x1="196.6" y1="291.45" x2="245.1" y2="297.82" stroke="#000" stroke-width="1.9"/>
<line x1="196.6" y1="295.19" x2="245.1" y2="314" stroke="#000" stroke-width="1.9"/>
<line x1="196.6" y1="268.66" x2="245.1" y2="276" stroke="#000" stroke-width="1.9"/>
<line x1="196.6" y1="281.97" x2="245.1" y2="313.8" stroke="#000" stroke-width="1.9"/>
<line x1="196.6" y1="306.29" x2="245.1" y2="309.35" stroke="#000" stroke-width="1.9"/>
<line x1="196.6" y1="307.86" x2="245.1" y2="310.13" stroke="#000" stroke-width="1.9"/>
<line x1="196.6" y1="298.87" x2="245.1" y2="300.69" stroke="#000" stroke-width="1.9"/>
<line x1="196.6" y1="268.09" x2="245.1" y2="298.2" stroke="#000" stroke-width="1.9"/>
<line x1="196.6" y1="278.47" x2="245.1" y2="283.66" stroke="#000" stroke-width="1.9"/>
<line x1="196.6" y1="317.12" x2="245.1" y2="347" stroke="#000" stroke-width="1.9"/>
<line x1="196.6" y1="282.47" x2="245.1" y2="316" stroke="#000" stroke-width="1.9"/>
<line x1="196.6" y1="294.96" x2="245.1" y2="317.72" stroke="#000" stroke-width="1.9"/>
<line x1="196.6" y1="278.24" x2="245.1" y2="311" stroke="#000" stroke-width="1.9"/>
<line x1="196.6" y1="302.53" x2="245.1" y2="336.26" stroke="#000" stroke-width="1.9"/>
<line x1="196.6" y1="312.69" x2="245.1" y2="321.04" stroke="#000" stroke-width="1.9"/>
<line x1="196.6" y1="286.06" x2="245.1" y2="289.37" stroke="#000" stroke-width="1.9"/>
<line x1="196.6" y1="275.29" x2="245.1" y2="276" stroke="#000" stroke-width="1.9"/>
<line x1="196.6" y1="283.07" x2="245.1" y2="302.99" stroke="#000" stroke-width="1.9"/>
<line x1="196.6" y1="268.17" x2="245.1" y2="290.93" stroke="#000" stroke-width="1.9"/>
<line x1="196.6" y1="284.89" x2="245.1" y2="293.67" stroke="#000" stroke-width="1.9"/>
<line x1="196.6" y1="308.93" x2="245.1" y2="324.19" stroke="#000" stroke-width="1.9"/>
<line x1="196.6" y1="283.79" x2="245.1" y2="299.08" stroke="#000" stroke-width="1.9"/>
<line x1="196.6" y1="303.23" x2="245.1" y2="302.4" stroke="#000" stroke-width="1.9"/>
<line x1="196.6" y1="316.75" x2="245.1" y2="314.62" stroke="#000" stroke-width="1.9"/>
<circle cx="196.6" cy="235.8" r="3" fill="#000"/>
<circle cx="245.1" cy="278" r="3.1" fill="#000"/>
<circle cx="196.6" cy="255.4" r="3" fill="#000"/>
<circle cx="245.1" cy="295" r="3.1" fill="#000"/>
<circle cx="196.6" cy="257.8" r="3" fill="#000"/>
<circle cx="245.1" cy="300" r="3.1" fill="#000"/>
<circle cx="196.6" cy="263.8" r="3" fill="#000"/>
<circle cx="245.1" cy="256" r="3.1" fill="#000"/>
<circle cx="196.6" cy="267.3" r="3" fill="#000"/>
<circle cx="245.1" cy="265.6" r="3.1" fill="#000"/>
<circle cx="196.6" cy="336.1" r="3" fill="#000"/>
<circle cx="245.1" cy="329.6" r="3.1" fill="#000"/>
<circle cx="196.6" cy="349.2" r="3" fill="#000"/>
<circle cx="245.1" cy="345" r="3.1" fill="#000"/>
<circle cx="196.6" cy="319.4" r="3" fill="#000"/>
<circle cx="245.1" cy="340" r="3.1" fill="#000"/>
<circle cx="196.6" cy="277" r="3" fill="#000"/>
<circle cx="245.1" cy="275.1" r="3.1" fill="#000"/>
<circle cx="196.6" cy="260" r="3" fill="#000"/>
<circle cx="245.1" cy="290" r="3.1" fill="#000"/>
<circle cx="196.6" cy="299.15" r="3" fill="#000"/>
<circle cx="245.1" cy="324.33" r="3.1" fill="#000"/>
<circle cx="196.6" cy="307.76" r="3" fill="#000"/>
<circle cx="245.1" cy="340.57" r="3.1" fill="#000"/>
<circle cx="196.6" cy="304.99" r="3" fill="#000"/>
<circle cx="245.1" cy="337.04" r="3.1" fill="#000"/>
<circle cx="196.6" cy="269.45" r="3" fill="#000"/>
<circle cx="245.1" cy="284.14" r="3.1" fill="#000"/>
<circle cx="196.6" cy="315.17" r="3" fill="#000"/>
<circle cx="245.1" cy="336.83" r="3.1" fill="#000"/>
<circle cx="196.6" cy="313.05" r="3" fill="#000"/>
<circle cx="245.1" cy="314.35" r="3.1" fill="#000"/>
<circle cx="196.6" cy="291.45" r="3" fill="#000"/>
<circle cx="245.1" cy="297.82" r="3.1" fill="#000"/>
<circle cx="196.6" cy="295.19" r="3" fill="#000"/>
<circle cx="245.1" cy="314" r="3.1" fill="#000"/>
<circle cx="196.6" cy="268.66" r="3" fill="#000"/>
<circle cx="245.1" cy="276" r="3.1" fill="#000"/>
<circle cx="196.6" cy="281.97" r="3" fill="#000"/>
<circle cx="245.1" cy="313.8" r="3.1" fill="#000"/>
<circle cx="196.6" cy="306.29" r="3" fill="#000"/>
<circle cx="245.1" cy="309.35" r="3.1" fill="#000"/>
<circle cx="196.6" cy="307.86" r="3" fill="#000"/>
<circle cx="245.1" cy="310.13" r="3.1" fill="#000"/>
<circle cx="196.6" cy="298.87" r="3" fill="#000"/>
<circle cx="245.1" cy="300.69" r="3.1" fill="#000"/>
<circle cx="196.6" cy="268.09" r="3" fill="#000"/>
<circle cx="245.1" cy="298.2" r="3.1" fill="#000"/>
<circle cx="196.6" cy="278.47" r="3" fill="#000"/>
<circle cx="245.1" cy="283.66" r="3.1" fill="#000"/>
<circle cx="196.6" cy="317.12" r="3" fill="#000"/>
<circle cx="245.1" cy="347" r="3.1" fill="#000"/>
<circle cx="196.6" cy="282.47" r="3" fill="#000"/>
<circle cx="245.1" cy="316" r="3.1" fill="#000"/>
<circle cx="196.6" cy="294.96" r="3" fill="#000"/>
<circle cx="245.1" cy="317.72" r="3.1" fill="#000"/>
<circle cx="196.6" cy="278.24" r="3" fill="#000"/>
<circle cx="245.1" cy="311" r="3.1" fill="#000"/>
<circle cx="196.6" cy="302.53" r="3" fill="#000"/>
<circle cx="245.1" cy="336.26" r="3.1" fill="#000"/>
<circle cx="196.6" cy="312.69" r="3" fill="#000"/>
<circle cx="245.1" cy="321.04" r="3.1" fill="#000"/>
<circle cx="196.6" cy="286.06" r="3" fill="#000"/>
<circle cx="245.1" cy="289.37" r="3.1" fill="#000"/>
<circle cx="196.6" cy="275.29" r="3" fill="#000"/>
<circle cx="245.1" cy="276" r="3.1" fill="#000"/>
<circle cx="196.6" cy="283.07" r="3" fill="#000"/>
<circle cx="245.1" cy="302.99" r="3.1" fill="#000"/>
<circle cx="196.6" cy="268.17" r="3" fill="#000"/>
<circle cx="245.1" cy="290.93" r="3.1" fill="#000"/>
<circle cx="196.6" cy="284.89" r="3" fill="#000"/>
<circle cx="245.1" cy="293.67" r="3.1" fill="#000"/>
<circle cx="196.6" cy="308.93" r="3" fill="#000"/>
<circle cx="245.1" cy="324.19" r="3.1" fill="#000"/>
<circle cx="196.6" cy="283.79" r="3" fill="#000"/>
<circle cx="245.1" cy="299.08" r="3.1" fill="#000"/>
<circle cx="196.6" cy="303.23" r="3" fill="#000"/>
<circle cx="245.1" cy="302.4" r="3.1" fill="#000"/>
<circle cx="196.6" cy="316.75" r="3" fill="#000"/>
<circle cx="245.1" cy="314.62" r="3.1" fill="#000"/>
<circle cx="196.6" cy="262" r="3" fill="#000"/>
<circle cx="196.6" cy="264.6" r="3" fill="#000"/>
<circle cx="196.6" cy="267.2" r="3" fill="#000"/>
<circle cx="196.6" cy="269.8" r="3" fill="#000"/>
<circle cx="196.6" cy="272.4" r="3" fill="#000"/>
<circle cx="196.6" cy="275" r="3" fill="#000"/>
<circle cx="196.6" cy="277.6" r="3" fill="#000"/>
<circle cx="196.6" cy="280.2" r="3" fill="#000"/>
<circle cx="196.6" cy="282.8" r="3" fill="#000"/>
<circle cx="196.6" cy="285.4" r="3" fill="#000"/>
<circle cx="196.6" cy="288" r="3" fill="#000"/>
<circle cx="196.6" cy="290.6" r="3" fill="#000"/>
<circle cx="196.6" cy="293.2" r="3" fill="#000"/>
<circle cx="196.6" cy="295.8" r="3" fill="#000"/>
<circle cx="196.6" cy="298.4" r="3" fill="#000"/>
<circle cx="196.6" cy="301" r="3" fill="#000"/>
<circle cx="196.6" cy="303.6" r="3" fill="#000"/>
<circle cx="196.6" cy="306.2" r="3" fill="#000"/>
<circle cx="196.6" cy="308.8" r="3" fill="#000"/>
<circle cx="196.6" cy="311.4" r="3" fill="#000"/>
<circle cx="196.6" cy="314" r="3" fill="#000"/>
<circle cx="196.6" cy="316.6" r="3" fill="#000"/>
<circle cx="196.6" cy="319.2" r="3" fill="#000"/>
<circle cx="196.6" cy="321.8" r="3" fill="#000"/>
<circle cx="245.1" cy="274" r="3.1" fill="#000"/>
<circle cx="245.1" cy="276.8" r="3.1" fill="#000"/>
<circle cx="245.1" cy="279.6" r="3.1" fill="#000"/>
<circle cx="245.1" cy="282.4" r="3.1" fill="#000"/>
<circle cx="245.1" cy="285.2" r="3.1" fill="#000"/>
<circle cx="245.1" cy="288" r="3.1" fill="#000"/>
<circle cx="245.1" cy="290.8" r="3.1" fill="#000"/>
<circle cx="245.1" cy="293.6" r="3.1" fill="#000"/>
<circle cx="245.1" cy="296.4" r="3.1" fill="#000"/>
<circle cx="245.1" cy="299.2" r="3.1" fill="#000"/>
<circle cx="245.1" cy="302" r="3.1" fill="#000"/>
<circle cx="245.1" cy="304.8" r="3.1" fill="#000"/>
<circle cx="245.1" cy="307.6" r="3.1" fill="#000"/>
<circle cx="245.1" cy="310.4" r="3.1" fill="#000"/>
<circle cx="245.1" cy="313.2" r="3.1" fill="#000"/>
<circle cx="245.1" cy="316" r="3.1" fill="#000"/>
<circle cx="245.1" cy="318.8" r="3.1" fill="#000"/>
<circle cx="245.1" cy="321.6" r="3.1" fill="#000"/>
<circle cx="245.1" cy="324.4" r="3.1" fill="#000"/>
<circle cx="245.1" cy="327.2" r="3.1" fill="#000"/>
<circle cx="245.1" cy="330" r="3.1" fill="#000"/>
<circle cx="245.1" cy="332.8" r="3.1" fill="#000"/>
<circle cx="245.1" cy="335.6" r="3.1" fill="#000"/>
<circle cx="245.1" cy="338.4" r="3.1" fill="#000"/>
<circle cx="245.1" cy="341.2" r="3.1" fill="#000"/>
<circle cx="245.1" cy="344" r="3.1" fill="#000"/>
<circle cx="245.1" cy="346.8" r="3.1" fill="#000"/>
<text x="276.2" y="233.1" text-anchor="start" font-size="19" font-weight="bold" fill="#000" stroke="#000" stroke-width="0.35">E</text>
<line x1="331.7" y1="225.8" x2="331.7" y2="422" stroke="#000" stroke-width="1.8"/>
<line x1="325.8" y1="397.8" x2="331.7" y2="397.8" stroke="#000" stroke-width="1.8"/>
<text x="319.4" y="401.4" text-anchor="end" font-size="10" font-weight="bold" fill="#000" stroke="#000" stroke-width="0.35">0</text>
<line x1="325.8" y1="351.67" x2="331.7" y2="351.67" stroke="#000" stroke-width="1.8"/>
<text x="319.4" y="355.27" text-anchor="end" font-size="10" font-weight="bold" fill="#000" stroke="#000" stroke-width="0.35">1</text>
<line x1="325.8" y1="305.54" x2="331.7" y2="305.54" stroke="#000" stroke-width="1.8"/>
<text x="319.4" y="309.14" text-anchor="end" font-size="10" font-weight="bold" fill="#000" stroke="#000" stroke-width="0.35">2</text>
<line x1="325.8" y1="259.41" x2="331.7" y2="259.41" stroke="#000" stroke-width="1.8"/>
<text x="319.4" y="263.01" text-anchor="end" font-size="10" font-weight="bold" fill="#000" stroke="#000" stroke-width="0.35">3</text>
<line x1="325.5" y1="374.74" x2="502.7" y2="374.74" stroke="#000" stroke-width="1.6" stroke-dasharray="3.6 3.1"/>
<line x1="325.5" y1="328.61" x2="502.7" y2="328.61" stroke="#000" stroke-width="1.6" stroke-dasharray="3.6 3.1"/>
<line x1="325.5" y1="282.48" x2="502.7" y2="282.48" stroke="#000" stroke-width="1.6" stroke-dasharray="3.6 3.1"/>
<line x1="330.8" y1="421.2" x2="516.8" y2="421.2" stroke="#000" stroke-width="1.8"/>
<line x1="331.6" y1="421.2" x2="331.6" y2="426" stroke="#000" stroke-width="1.8"/>
<text x="329.1" y="437.6" text-anchor="middle" font-size="10" font-weight="bold" fill="#000" stroke="#000" stroke-width="0.35">0</text>
<line x1="368.48" y1="421.2" x2="368.48" y2="426" stroke="#000" stroke-width="1.8"/>
<text x="365.98" y="437.6" text-anchor="middle" font-size="10" font-weight="bold" fill="#000" stroke="#000" stroke-width="0.35">5</text>
<line x1="405.36" y1="421.2" x2="405.36" y2="426" stroke="#000" stroke-width="1.8"/>
<text x="402.86" y="437.6" text-anchor="middle" font-size="10" font-weight="bold" fill="#000" stroke="#000" stroke-width="0.35">10</text>
<line x1="442.24" y1="421.2" x2="442.24" y2="426" stroke="#000" stroke-width="1.8"/>
<text x="439.74" y="437.6" text-anchor="middle" font-size="10" font-weight="bold" fill="#000" stroke="#000" stroke-width="0.35">15</text>
<line x1="479.12" y1="421.2" x2="479.12" y2="426" stroke="#000" stroke-width="1.8"/>
<text x="476.62" y="437.6" text-anchor="middle" font-size="10" font-weight="bold" fill="#000" stroke="#000" stroke-width="0.35">20</text>
<line x1="516" y1="421.2" x2="516" y2="426" stroke="#000" stroke-width="1.8"/>
<text x="513.5" y="437.6" text-anchor="middle" font-size="10" font-weight="bold" fill="#000" stroke="#000" stroke-width="0.35">25</text>
<text x="423" y="458" text-anchor="middle" font-size="10" font-weight="bold" fill="#000" stroke="#000" stroke-width="0.35">CRP (mg/L)</text>
<text transform="translate(309.2,329) rotate(-90)" text-anchor="middle" font-size="10" font-weight="bold" stroke="#000" stroke-width="0.35">Bleeding score</text>
<text x="495" y="250.2" text-anchor="end" font-size="10" font-weight="bold" fill="#1410d8" stroke="#1410d8" stroke-width="0.35">2</text>
<text x="495" y="265.3" text-anchor="end" font-size="10" font-weight="bold" fill="#e0101a" stroke="#e0101a" stroke-width="0.35">9</text>
<text x="495" y="280.4" text-anchor="end" font-size="10" font-weight="bold" fill="#000" stroke="#000" stroke-width="0.35">29</text>
<text x="495" y="295.7" text-anchor="end" font-size="10" font-weight="bold" fill="#1410d8" stroke="#1410d8" stroke-width="0.35">6</text>
<text x="495" y="310.8" text-anchor="end" font-size="10" font-weight="bold" fill="#e0101a" stroke="#e0101a" stroke-width="0.35">12</text>
<text x="495" y="325.9" text-anchor="end" font-size="10" font-weight="bold" fill="#000" stroke="#000" stroke-width="0.35">34</text>
<text x="495" y="341.2" text-anchor="end" font-size="10" font-weight="bold" fill="#1410d8" stroke="#1410d8" stroke-width="0.35">10</text>
<text x="495" y="356.3" text-anchor="end" font-size="10" font-weight="bold" fill="#e0101a" stroke="#e0101a" stroke-width="0.35">11</text>
<text x="495" y="371.4" text-anchor="end" font-size="10" font-weight="bold" fill="#000" stroke="#000" stroke-width="0.35">10</text>
<text x="495" y="386.7" text-anchor="end" font-size="10" font-weight="bold" fill="#1410d8" stroke="#1410d8" stroke-width="0.35">19</text>
<text x="495" y="401.8" text-anchor="end" font-size="10" font-weight="bold" fill="#e0101a" stroke="#e0101a" stroke-width="0.35">6</text>
<text x="495" y="416.9" text-anchor="end" font-size="10" font-weight="bold" fill="#000" stroke="#000" stroke-width="0.35">3</text>
<text x="403.6" y="395.4" text-anchor="start" font-size="10" font-weight="bold" fill="#000" stroke="#000" stroke-width="0.35">rho=0.2378</text>
<text x="403.6" y="407" text-anchor="start" font-size="10" font-weight="bold" fill="#000" stroke="#000" stroke-width="0.35">P=0.0017</text>
<circle cx="339.8" cy="268" r="2.3" fill="#000"/>
<circle cx="349" cy="271.2" r="2.3" fill="#000"/>
<circle cx="354" cy="275.4" r="2.3" fill="#000"/>
<circle cx="362.9" cy="269.6" r="2.3" fill="#000"/>
<circle cx="365.8" cy="273.3" r="2.3" fill="#000"/>
<circle cx="370.4" cy="269.4" r="2.3" fill="#000"/>
<circle cx="374.8" cy="273.3" r="2.3" fill="#000"/>
<circle cx="458.5" cy="272.3" r="2.3" fill="#000"/>
<circle cx="344" cy="274" r="2.3" fill="#000"/>
<circle cx="346" cy="278" r="2.3" fill="#000"/>
<circle cx="335.09" cy="274.62" r="2.3" fill="#000"/>
<circle cx="336.81" cy="275.45" r="2.3" fill="#000"/>
<circle cx="340.13" cy="267.92" r="2.3" fill="#000"/>
<circle cx="332.17" cy="278.72" r="2.3" fill="#000"/>
<circle cx="335.37" cy="270.28" r="2.3" fill="#000"/>
<circle cx="344.94" cy="273.58" r="2.3" fill="#000"/>
<circle cx="342.87" cy="273.67" r="2.3" fill="#000"/>
<circle cx="340.31" cy="269.11" r="2.3" fill="#000"/>
<circle cx="340.25" cy="279.15" r="2.3" fill="#000"/>
<circle cx="338.8" cy="277.38" r="2.3" fill="#000"/>
<circle cx="340.73" cy="267.9" r="2.3" fill="#000"/>
<circle cx="341.86" cy="275.28" r="2.3" fill="#000"/>
<circle cx="335.92" cy="267.43" r="2.3" fill="#000"/>
<circle cx="343.25" cy="273.62" r="2.3" fill="#000"/>
<circle cx="341.34" cy="279.3" r="2.3" fill="#000"/>
<circle cx="341.28" cy="279.9" r="2.3" fill="#000"/>
<circle cx="337.13" cy="278.21" r="2.3" fill="#000"/>
<circle cx="337.78" cy="280.1" r="2.3" fill="#000"/>
<circle cx="343.43" cy="268.36" r="2.3" fill="#000"/>
<circle cx="333.77" cy="270.04" r="2.3" fill="#000"/>
<circle cx="344.55" cy="273.11" r="2.3" fill="#000"/>
<circle cx="340.15" cy="271.21" r="2.3" fill="#000"/>
<rect x="332.2" y="251.5" width="4" height="4" fill="#e0101a"/>
<rect x="332.6" y="255.5" width="4" height="4" fill="#e0101a"/>
<rect x="331.8" y="259.5" width="4" height="4" fill="#e0101a"/>
<rect x="332.2" y="262.5" width="4" height="4" fill="#e0101a"/>
<rect x="334.5" y="254" width="4" height="4" fill="#e0101a"/>
<rect x="341.7" y="257.6" width="4" height="4" fill="#e0101a"/>
<rect x="353.6" y="257.2" width="4" height="4" fill="#e0101a"/>
<rect x="393" y="257.4" width="4" height="4" fill="#e0101a"/>
<rect x="410.3" y="257.4" width="4" height="4" fill="#e0101a"/>
<rect x="478.6" y="256.8" width="4" height="4" fill="#e0101a"/>
<polygon points="329.6,248.11 334,248.11 331.8,244.29" fill="#1410d8"/>
<polygon points="337.5,248.11 341.9,248.11 339.7,244.29" fill="#1410d8"/>
<circle cx="356.31" cy="316.64" r="2.3" fill="#000"/>
<circle cx="344.97" cy="317.64" r="2.3" fill="#000"/>
<circle cx="349.74" cy="318.17" r="2.3" fill="#000"/>
<circle cx="347.54" cy="318.34" r="2.3" fill="#000"/>
<circle cx="357.46" cy="317.55" r="2.3" fill="#000"/>
<circle cx="344.21" cy="319.04" r="2.3" fill="#000"/>
<circle cx="339.18" cy="316.11" r="2.3" fill="#000"/>
<circle cx="358.42" cy="317.65" r="2.3" fill="#000"/>
<circle cx="347.26" cy="314.08" r="2.3" fill="#000"/>
<circle cx="343.8" cy="318.06" r="2.3" fill="#000"/>
<circle cx="333.52" cy="318.31" r="2.3" fill="#000"/>
<circle cx="349.44" cy="314.42" r="2.3" fill="#000"/>
<circle cx="349.31" cy="317.26" r="2.3" fill="#000"/>
<circle cx="350.66" cy="316.47" r="2.3" fill="#000"/>
<circle cx="351.38" cy="319.17" r="2.3" fill="#000"/>
<circle cx="333.58" cy="314.42" r="2.3" fill="#000"/>
<circle cx="350.58" cy="320.74" r="2.3" fill="#000"/>
<circle cx="339.53" cy="317.19" r="2.3" fill="#000"/>
<circle cx="348.41" cy="316.24" r="2.3" fill="#000"/>
<circle cx="342.46" cy="316.19" r="2.3" fill="#000"/>
<circle cx="333.48" cy="322.98" r="2.3" fill="#000"/>
<circle cx="333.2" cy="321.89" r="2.3" fill="#000"/>
<circle cx="335.09" cy="320.13" r="2.3" fill="#000"/>
<circle cx="334.28" cy="323.68" r="2.3" fill="#000"/>
<circle cx="375.8" cy="317.5" r="2.3" fill="#000"/>
<circle cx="381.9" cy="318" r="2.3" fill="#000"/>
<circle cx="397.9" cy="317.5" r="2.3" fill="#000"/>
<rect x="334.28" y="298.93" width="4" height="4" fill="#e0101a"/>
<rect x="334.99" y="303.1" width="4" height="4" fill="#e0101a"/>
<rect x="331.71" y="297.23" width="4" height="4" fill="#e0101a"/>
<rect x="335.12" y="307.88" width="4" height="4" fill="#e0101a"/>
<rect x="330.53" y="305.71" width="4" height="4" fill="#e0101a"/>
<rect x="332.46" y="298.23" width="4" height="4" fill="#e0101a"/>
<rect x="331.76" y="305.34" width="4" height="4" fill="#e0101a"/>
<rect x="335.24" y="297.01" width="4" height="4" fill="#e0101a"/>
<rect x="333.69" y="297.02" width="4" height="4" fill="#e0101a"/>
<rect x="334.31" y="300.31" width="4" height="4" fill="#e0101a"/>
<rect x="335.29" y="307.78" width="4" height="4" fill="#e0101a"/>
<rect x="333.03" y="307.98" width="4" height="4" fill="#e0101a"/>
<rect x="331.86" y="297.39" width="4" height="4" fill="#e0101a"/>
<rect x="333.6" y="296.86" width="4" height="4" fill="#e0101a"/>
<rect x="334.99" y="300.45" width="4" height="4" fill="#e0101a"/>
<rect x="337.05" y="298.94" width="4" height="4" fill="#e0101a"/>
<rect x="334.21" y="303.21" width="4" height="4" fill="#e0101a"/>
<rect x="335.57" y="303.75" width="4" height="4" fill="#e0101a"/>
<rect x="352.1" y="301.6" width="4" height="4" fill="#e0101a"/>
<polygon points="333.86,292.15 338.26,292.15 336.06,288.32" fill="#1410d8"/>
<polygon points="332.61,293.05 337.01,293.05 334.81,289.22" fill="#1410d8"/>
<polygon points="334.47,294.48 338.87,294.48 336.67,290.65" fill="#1410d8"/>
<polygon points="335.26,294.59 339.66,294.59 337.46,290.77" fill="#1410d8"/>
<polygon points="336.65,294.87 341.05,294.87 338.85,291.05" fill="#1410d8"/>
<polygon points="335.17,291.15 339.57,291.15 337.37,287.32" fill="#1410d8"/>
<polygon points="336.69,294.75 341.09,294.75 338.89,290.93" fill="#1410d8"/>
<polygon points="337.04,292.97 341.44,292.97 339.24,289.15" fill="#1410d8"/>
<polygon points="336.3,291.91 340.7,291.91 338.5,288.09" fill="#1410d8"/>
<polygon points="330.8,292.91 335.2,292.91 333,289.09" fill="#1410d8"/>
<circle cx="334.7" cy="365" r="2.3" fill="#000"/>
<circle cx="338.2" cy="367" r="2.3" fill="#000"/>
<circle cx="342" cy="367" r="2.3" fill="#000"/>
<circle cx="344.5" cy="368.6" r="2.3" fill="#000"/>
<circle cx="350.3" cy="367" r="2.3" fill="#000"/>
<circle cx="354.4" cy="363.4" r="2.3" fill="#000"/>
<rect x="333.54" y="348.41" width="4" height="4" fill="#e0101a"/>
<rect x="330.9" y="344.45" width="4" height="4" fill="#e0101a"/>
<rect x="332.12" y="345.29" width="4" height="4" fill="#e0101a"/>
<rect x="333.23" y="353.06" width="4" height="4" fill="#e0101a"/>
<rect x="330.73" y="346.34" width="4" height="4" fill="#e0101a"/>
<rect x="333.23" y="350.7" width="4" height="4" fill="#e0101a"/>
<rect x="333.23" y="347.14" width="4" height="4" fill="#e0101a"/>
<rect x="330.52" y="346.5" width="4" height="4" fill="#e0101a"/>
<rect x="333.18" y="346.25" width="4" height="4" fill="#e0101a"/>
<rect x="331.39" y="348" width="4" height="4" fill="#e0101a"/>
<rect x="342.5" y="348.5" width="4" height="4" fill="#e0101a"/>
<rect x="354" y="348.5" width="4" height="4" fill="#e0101a"/>
<rect x="375.3" y="348.5" width="4" height="4" fill="#e0101a"/>
<rect x="387.4" y="348.5" width="4" height="4" fill="#e0101a"/>
<rect x="455.5" y="348.2" width="4" height="4" fill="#e0101a"/>
<polygon points="330.08,336.14 334.48,336.14 332.28,332.31" fill="#1410d8"/>
<polygon points="331.31,336.3 335.71,336.3 333.51,332.47" fill="#1410d8"/>
<polygon points="329.77,338.27 334.17,338.27 331.97,334.44" fill="#1410d8"/>
<polygon points="331.05,334.93 335.45,334.93 333.25,331.1" fill="#1410d8"/>
<polygon points="330.1,337.25 334.5,337.25 332.3,333.42" fill="#1410d8"/>
<polygon points="331.38,338.3 335.78,338.3 333.58,334.47" fill="#1410d8"/>
<polygon points="331.44,335.61 335.84,335.61 333.64,331.78" fill="#1410d8"/>
<polygon points="330.14,340.42 334.54,340.42 332.34,336.59" fill="#1410d8"/>
<polygon points="342.8,344.11 347.2,344.11 345,340.29" fill="#1410d8"/>
<polygon points="371.4,344.11 375.8,344.11 373.6,340.29" fill="#1410d8"/>
<polygon points="330.6,377 333.5,377.5 342,388.6 330.6,388.6" fill="#1410d8"/>
<circle cx="336" cy="410.5" r="2.3" fill="#000"/>
<circle cx="337.5" cy="413.5" r="2.3" fill="#000"/>
<circle cx="342.5" cy="413.5" r="2.3" fill="#000"/>
<rect x="332.7" y="396.77" width="4" height="4" fill="#e0101a"/>
<rect x="330.04" y="398.45" width="4" height="4" fill="#e0101a"/>
<rect x="330.52" y="394" width="4" height="4" fill="#e0101a"/>
<rect x="331.99" y="396.25" width="4" height="4" fill="#e0101a"/>
<rect x="331.24" y="400.39" width="4" height="4" fill="#e0101a"/>
<rect x="331.84" y="394.41" width="4" height="4" fill="#e0101a"/>
<rect x="330.76" y="399.62" width="4" height="4" fill="#e0101a"/>
<rect x="331.43" y="398.82" width="4" height="4" fill="#e0101a"/>
<rect x="331.06" y="392.97" width="4" height="4" fill="#e0101a"/>
<rect x="331.6" y="399.17" width="4" height="4" fill="#e0101a"/>
<polygon points="329.3,383.53 333.7,383.53 331.5,379.7" fill="#1410d8"/>
<polygon points="329.3,383.42 333.7,383.42 331.5,379.59" fill="#1410d8"/>
<polygon points="329.3,389.04 333.7,389.04 331.5,385.21" fill="#1410d8"/>
<polygon points="329.3,380.63 333.7,380.63 331.5,376.8" fill="#1410d8"/>
<polygon points="329.81,389.35 334.21,389.35 332.01,385.52" fill="#1410d8"/>
<polygon points="332.44,389.78 336.84,389.78 334.64,385.96" fill="#1410d8"/>
<polygon points="331.1,389.42 335.5,389.42 333.3,385.59" fill="#1410d8"/>
<polygon points="332.58,382.13 336.98,382.13 334.78,378.31" fill="#1410d8"/>
<polygon points="332.04,388.28 336.44,388.28 334.24,384.45" fill="#1410d8"/>
<polygon points="331.79,385.1 336.19,385.1 333.99,381.28" fill="#1410d8"/>
<polygon points="334.53,387.28 338.93,387.28 336.73,383.45" fill="#1410d8"/>
<polygon points="334.16,386.19 338.56,386.19 336.36,382.36" fill="#1410d8"/>
<polygon points="336.33,387.06 340.73,387.06 338.53,383.23" fill="#1410d8"/>
<polygon points="337.66,386.09 342.06,386.09 339.86,382.27" fill="#1410d8"/>
<polygon points="338.22,388.69 342.62,388.69 340.42,384.86" fill="#1410d8"/>
<polygon points="338.34,389.5 342.74,389.5 340.54,385.67" fill="#1410d8"/>
<polygon points="341.9,383.91 346.3,383.91 344.1,380.09" fill="#1410d8"/>
<polygon points="355,387.71 359.4,387.71 357.2,383.89" fill="#1410d8"/>
<text x="11.2" y="415.8" text-anchor="start" font-size="19" font-weight="bold" fill="#000" stroke="#000" stroke-width="0.35">F</text>
<line x1="67.8" y1="413.6" x2="67.8" y2="613.4" stroke="#000" stroke-width="1.8"/>
<line x1="62.5" y1="612.5" x2="67.8" y2="612.5" stroke="#000" stroke-width="1.8"/>
<text x="59.6" y="616.1" text-anchor="end" font-size="10" font-weight="bold" fill="#000" stroke="#000" stroke-width="0.35">0</text>
<line x1="62.5" y1="572.85" x2="67.8" y2="572.85" stroke="#000" stroke-width="1.8"/>
<text x="59.6" y="576.45" text-anchor="end" font-size="10" font-weight="bold" fill="#000" stroke="#000" stroke-width="0.35">100</text>
<line x1="62.5" y1="533.2" x2="67.8" y2="533.2" stroke="#000" stroke-width="1.8"/>
<text x="59.6" y="536.8" text-anchor="end" font-size="10" font-weight="bold" fill="#000" stroke="#000" stroke-width="0.35">200</text>
<line x1="62.5" y1="493.55" x2="67.8" y2="493.55" stroke="#000" stroke-width="1.8"/>
<text x="59.6" y="497.15" text-anchor="end" font-size="10" font-weight="bold" fill="#000" stroke="#000" stroke-width="0.35">300</text>
<line x1="62.5" y1="453.9" x2="67.8" y2="453.9" stroke="#000" stroke-width="1.8"/>
<text x="59.6" y="457.5" text-anchor="end" font-size="10" font-weight="bold" fill="#000" stroke="#000" stroke-width="0.35">400</text>
<line x1="62.5" y1="414.25" x2="67.8" y2="414.25" stroke="#000" stroke-width="1.8"/>
<text x="59.6" y="417.85" text-anchor="end" font-size="10" font-weight="bold" fill="#000" stroke="#000" stroke-width="0.35">500</text>
<line x1="66.9" y1="612.6" x2="266.8" y2="612.6" stroke="#000" stroke-width="1.8"/>
<line x1="79.6" y1="612.6" x2="79.6" y2="617.2" stroke="#000" stroke-width="1.8"/>
<line x1="103.2" y1="612.6" x2="103.2" y2="617.2" stroke="#000" stroke-width="1.8"/>
<line x1="129.2" y1="612.6" x2="129.2" y2="617.2" stroke="#000" stroke-width="1.8"/>
<line x1="153.5" y1="612.6" x2="153.5" y2="617.2" stroke="#000" stroke-width="1.8"/>
<line x1="178.8" y1="612.6" x2="178.8" y2="617.2" stroke="#000" stroke-width="1.8"/>
<line x1="203.5" y1="612.6" x2="203.5" y2="617.2" stroke="#000" stroke-width="1.8"/>
<line x1="228.4" y1="612.6" x2="228.4" y2="617.2" stroke="#000" stroke-width="1.8"/>
<line x1="252.6" y1="612.6" x2="252.6" y2="617.2" stroke="#000" stroke-width="1.8"/>
<text transform="translate(32.3,515.6) rotate(-90)" text-anchor="middle" font-size="10" font-weight="bold" stroke="#000" stroke-width="0.35">Platelets (*10<tspan font-size="6.5" dy="-3.5">9</tspan><tspan dy="3.5">)</tspan></text>
<text x="49.4" y="619.2" text-anchor="end" font-size="9.9" font-weight="normal" fill="#000" stroke="#000" stroke-width="0.3">CRP: levels</text>
<text x="54.6" y="632.5" text-anchor="end" font-size="9.9" font-weight="normal" fill="#000" stroke="#000" stroke-width="0.3">at diagnosis:</text>
<text x="58.6" y="644.8" text-anchor="end" font-size="9.8" font-weight="normal" fill="#000" stroke="#000" stroke-width="0.3">(≤ or &gt;+ 2SD)</text>
<text x="79.6" y="629.6" text-anchor="middle" font-size="10" font-weight="normal" fill="#000" stroke="#000" stroke-width="0.3">≤</text>
<text x="103.2" y="629.6" text-anchor="middle" font-size="10" font-weight="normal" fill="#000" stroke="#000" stroke-width="0.3">&gt;</text>
<text x="129.2" y="629.6" text-anchor="middle" font-size="10" font-weight="normal" fill="#000" stroke="#000" stroke-width="0.3">≤</text>
<text x="153.5" y="629.6" text-anchor="middle" font-size="10" font-weight="normal" fill="#000" stroke="#000" stroke-width="0.3">&gt;</text>
<text x="178.8" y="629.6" text-anchor="middle" font-size="10" font-weight="normal" fill="#000" stroke="#000" stroke-width="0.3">≤</text>
<text x="203.5" y="629.6" text-anchor="middle" font-size="10" font-weight="normal" fill="#000" stroke="#000" stroke-width="0.3">&gt;</text>
<text x="228.4" y="629.6" text-anchor="middle" font-size="10" font-weight="normal" fill="#000" stroke="#000" stroke-width="0.3">≤</text>
<text x="252.6" y="629.6" text-anchor="middle" font-size="10" font-weight="normal" fill="#000" stroke="#000" stroke-width="0.3">&gt;</text>
<line x1="73.2" y1="639.6" x2="109.2" y2="639.6" stroke="#000" stroke-width="2.8"/>
<line x1="122.8" y1="639.6" x2="158.8" y2="639.6" stroke="#000" stroke-width="2.8"/>
<line x1="172.4" y1="639.6" x2="208" y2="639.6" stroke="#000" stroke-width="2.8"/>
<line x1="222.6" y1="639.6" x2="257.7" y2="639.6" stroke="#000" stroke-width="2.8"/>
<text x="92.8" y="654.5" text-anchor="middle" font-size="10" font-weight="normal" fill="#000" stroke="#000" stroke-width="0.3">Diagnosis</text>
<text x="140.5" y="654.5" text-anchor="middle" font-size="10" font-weight="normal" fill="#000" stroke="#000" stroke-width="0.3" xml:space="preserve">1  Week</text>
<text x="190.8" y="655" text-anchor="middle" font-size="10" font-weight="normal" fill="#000" stroke="#000" stroke-width="0.3">3 Months</text>
<text x="240.4" y="655" text-anchor="middle" font-size="10" font-weight="normal" fill="#000" stroke="#000" stroke-width="0.3">6 Months</text>
<text x="69.2" y="670.8" text-anchor="start" font-size="10" font-weight="bold" fill="#000" stroke="#000" stroke-width="0.35" textLength="203.36" lengthAdjust="spacingAndGlyphs">Time after onset of newly diagnosed ITP</text>
<polyline points="180.3,412.8 180.3,408 204.8,408 204.8,412.8" fill="none" stroke="#000" stroke-width="1.8"/>
<polygon points="191.55,399 192.4,400.84 194.4,401.07 192.92,402.44 193.31,404.43 191.55,403.44 189.79,404.43 190.18,402.44 188.7,401.07 190.7,400.84" fill="#000" stroke="#000" stroke-width="0.5" stroke-linejoin="round"/>
<polygon points="71.4,601.5 88.7,601.5 88.7,608.5 84,613.5 79.5,616.2 75,613.5 71.4,608.5" fill="#000"/>
<polygon points="71.25,600.67 77.75,600.67 74.5,606.33" fill="#000"/>
<polygon points="76.25,600.67 82.75,600.67 79.5,606.33" fill="#000"/>
<polygon points="82.25,600.67 88.75,600.67 85.5,606.33" fill="#000"/>
<polygon points="98.8,604.2 110.8,604.2 112.7,609.5 106.5,611 104,615.5 101.5,611 96.4,609.5" fill="#000"/>
<line x1="129.2" y1="520.9" x2="129.2" y2="612" stroke="#000" stroke-width="1.8"/>
<line x1="126.2" y1="520.9" x2="132.4" y2="520.9" stroke="#000" stroke-width="1.8"/>
<line x1="121.4" y1="577" x2="137.4" y2="577" stroke="#000" stroke-width="2"/>
<polygon points="125.9,449.43 132.5,449.43 129.2,455.17" fill="#fff" stroke="#000" stroke-width="1.9" stroke-linejoin="miter"/>
<polygon points="125.9,458.33 132.5,458.33 129.2,464.07" fill="#fff" stroke="#000" stroke-width="1.9" stroke-linejoin="miter"/>
<polygon points="125.9,498.43 132.5,498.43 129.2,504.17" fill="#fff" stroke="#000" stroke-width="1.9" stroke-linejoin="miter"/>
<polygon points="122.3,584.63 128.9,584.63 125.6,590.37" fill="#fff" stroke="#000" stroke-width="1.9" stroke-linejoin="miter"/>
<polygon points="130,582.13 136.6,582.13 133.3,587.87" fill="#fff" stroke="#000" stroke-width="1.9" stroke-linejoin="miter"/>
<polygon points="121.7,594.63 128.3,594.63 125,600.37" fill="#fff" stroke="#000" stroke-width="1.9" stroke-linejoin="miter"/>
<polygon points="130,592.43 136.6,592.43 133.3,598.17" fill="#fff" stroke="#000" stroke-width="1.9" stroke-linejoin="miter"/>
<polygon points="120.8,605.3 138.2,605.3 129.5,617" fill="#000"/>
<polygon points="122,600 137,600 133,606 126,606" fill="#000"/>
<line x1="153.8" y1="530.3" x2="153.8" y2="612" stroke="#000" stroke-width="1.8"/>
<line x1="150.5" y1="530.3" x2="158.2" y2="530.3" stroke="#000" stroke-width="1.8"/>
<line x1="146.3" y1="579.3" x2="162" y2="579.3" stroke="#000" stroke-width="2"/>
<polygon points="151.5,424.08 157.3,424.08 154.4,429.12" fill="#000"/>
<polygon points="155.5,483.48 161.3,483.48 158.4,488.52" fill="#000"/>
<polygon points="147.3,490.18 153.1,490.18 150.2,495.22" fill="#000"/>
<polygon points="151.1,537.68 156.9,537.68 154,542.72" fill="#000"/>
<polygon points="151.1,552.28 156.9,552.28 154,557.32" fill="#000"/>
<polygon points="151.1,562.68 156.9,562.68 154,567.72" fill="#000"/>
<polygon points="147,570.48 152.8,570.48 149.9,575.52" fill="#000"/>
<polygon points="155.3,577.18 161.1,577.18 158.2,582.22" fill="#000"/>
<polygon points="147,593.78 152.8,593.78 149.9,598.82" fill="#000"/>
<polygon points="159.4,598.98 165.2,598.98 162.3,604.02" fill="#000"/>
<polygon points="146.7,605.4 162.1,605.4 160,610.5 154,613.5 148.5,610.5" fill="#000"/>
<polygon points="147,603.48 152.8,603.48 149.9,608.52" fill="#000"/>
<polygon points="152.1,603.48 157.9,603.48 155,608.52" fill="#000"/>
<polygon points="156.6,603.48 162.4,603.48 159.5,608.52" fill="#000"/>
<polygon points="153.9,601.38 159.7,601.38 156.8,606.42" fill="#000"/>
<line x1="178.8" y1="467.7" x2="178.8" y2="556.6" stroke="#000" stroke-width="1.8"/>
<line x1="175.1" y1="467.7" x2="183.1" y2="467.7" stroke="#000" stroke-width="1.8"/>
<line x1="175.1" y1="556.6" x2="183.1" y2="556.6" stroke="#000" stroke-width="1.8"/>
<line x1="171" y1="512" x2="186" y2="512" stroke="#000" stroke-width="2"/>
<polygon points="178.7,463.75 182.45,467.5 178.7,471.25 174.95,467.5" fill="#000"/>
<polygon points="178.7,421.6 182,424.9 178.7,428.2 175.4,424.9" fill="#fff" stroke="#000" stroke-width="1.7"/>
<polygon points="183.5,479.5 186.8,482.8 183.5,486.1 180.2,482.8" fill="#fff" stroke="#000" stroke-width="1.7"/>
<polygon points="171,487.9 174.3,491.2 171,494.5 167.7,491.2" fill="#fff" stroke="#000" stroke-width="1.7"/>
<polygon points="174.6,490.7 177.9,494 174.6,497.3 171.3,494" fill="#fff" stroke="#000" stroke-width="1.7"/>
<polygon points="183.5,498.2 186.8,501.5 183.5,504.8 180.2,501.5" fill="#fff" stroke="#000" stroke-width="1.7"/>
<polygon points="174.6,503.2 177.9,506.5 174.6,509.8 171.3,506.5" fill="#fff" stroke="#000" stroke-width="1.7"/>
<polygon points="183.5,507.7 186.8,511 183.5,514.3 180.2,511" fill="#fff" stroke="#000" stroke-width="1.7"/>
<polygon points="183.5,514.5 186.8,517.8 183.5,521.1 180.2,517.8" fill="#fff" stroke="#000" stroke-width="1.7"/>
<polygon points="174.6,520.7 177.9,524 174.6,527.3 171.3,524" fill="#fff" stroke="#000" stroke-width="1.7"/>
<polygon points="179.6,595.5 182.9,598.8 179.6,602.1 176.3,598.8" fill="#fff" stroke="#000" stroke-width="1.7"/>
<polygon points="178.7,605.3 182,608.6 178.7,611.9 175.4,608.6" fill="#fff" stroke="#000" stroke-width="1.7"/>
<polygon points="178.7,478.4 182.2,481.9 178.7,485.4 175.2,481.9" fill="#000"/>
<polygon points="179.6,511.1 183.1,514.6 179.6,518.1 176.1,514.6" fill="#000"/>
<polygon points="180,520.5 183.5,524 180,527.5 176.5,524" fill="#000"/>
<polygon points="178.7,533.9 182.2,537.4 178.7,540.9 175.2,537.4" fill="#000"/>
<polygon points="178.7,466.5 182.2,470 178.7,473.5 175.2,470" fill="#000"/>
<line x1="203.6" y1="494.4" x2="203.6" y2="594" stroke="#000" stroke-width="1.8"/>
<line x1="199" y1="494.4" x2="208" y2="494.4" stroke="#000" stroke-width="1.8"/>
<line x1="199" y1="594" x2="208" y2="594" stroke="#000" stroke-width="1.8"/>
<line x1="195.6" y1="544.2" x2="211.6" y2="544.2" stroke="#000" stroke-width="2"/>
<polygon points="203.6,454.4 206.5,457.3 203.6,460.2 200.7,457.3" fill="#000"/>
<polygon points="199.5,469.2 202.4,472.1 199.5,475 196.6,472.1" fill="#000"/>
<polygon points="207.7,473.3 210.6,476.2 207.7,479.1 204.8,476.2" fill="#000"/>
<polygon points="203.6,493.1 206.5,496 203.6,498.9 200.7,496" fill="#000"/>
<polygon points="200.6,498.6 203.5,501.5 200.6,504.4 197.7,501.5" fill="#000"/>
<polygon points="207.7,519.4 210.6,522.3 207.7,525.2 204.8,522.3" fill="#000"/>
<polygon points="200.6,524.7 203.5,527.6 200.6,530.5 197.7,527.6" fill="#000"/>
<polygon points="203.6,526.5 206.5,529.4 203.6,532.3 200.7,529.4" fill="#000"/>
<polygon points="200.6,535.9 203.5,538.8 200.6,541.7 197.7,538.8" fill="#000"/>
<polygon points="207.7,535.9 210.6,538.8 207.7,541.7 204.8,538.8" fill="#000"/>
<polygon points="200.6,548.7 203.5,551.6 200.6,554.5 197.7,551.6" fill="#000"/>
<polygon points="207.7,548.7 210.6,551.6 207.7,554.5 204.8,551.6" fill="#000"/>
<polygon points="207.7,596.4 210.6,599.3 207.7,602.2 204.8,599.3" fill="#000"/>
<polygon points="203.6,492 206.1,494.5 203.6,497 201.1,494.5" fill="#000"/>
<polygon points="201,494 203.5,496.5 201,499 198.5,496.5" fill="#000"/>
<polygon points="206.2,494 208.7,496.5 206.2,499 203.7,496.5" fill="#000"/>
<polygon points="203.7,575.75 206.45,578.5 203.7,581.25 200.95,578.5" fill="#000"/>
<polygon points="199.6,589.15 202.35,591.9 199.6,594.65 196.85,591.9" fill="#fff" stroke="#000" stroke-width="1.7"/>
<polyline points="199.6,594.9 203.6,594.9 203.6,596 207.8,596" fill="none" stroke="#000" stroke-width="1.8"/>
<polyline points="197.3,606.2 203.7,611 210.1,606.2" fill="none" stroke="#000" stroke-width="3.4"/>
<line x1="228.4" y1="458.4" x2="228.4" y2="547.7" stroke="#000" stroke-width="1.8"/>
<line x1="224.2" y1="458.4" x2="232.6" y2="458.4" stroke="#000" stroke-width="1.8"/>
<line x1="224.2" y1="547.7" x2="232.6" y2="547.7" stroke="#000" stroke-width="1.8"/>
<line x1="219.8" y1="502.9" x2="236.7" y2="502.9" stroke="#000" stroke-width="2"/>
<circle cx="228.3" cy="428.8" r="3.0" fill="#fff" stroke="#000" stroke-width="1.7"/>
<circle cx="228.3" cy="446" r="3.0" fill="#fff" stroke="#000" stroke-width="1.7"/>
<circle cx="223.9" cy="486.3" r="3.0" fill="#fff" stroke="#000" stroke-width="1.7"/>
<circle cx="228.3" cy="485.5" r="3.0" fill="#fff" stroke="#000" stroke-width="1.7"/>
<circle cx="232.8" cy="485.1" r="3.0" fill="#fff" stroke="#000" stroke-width="1.7"/>
<circle cx="228.3" cy="491.7" r="3.0" fill="#fff" stroke="#000" stroke-width="1.7"/>
<circle cx="224.2" cy="506.8" r="3.0" fill="#fff" stroke="#000" stroke-width="1.7"/>
<circle cx="232.8" cy="506.8" r="3.0" fill="#fff" stroke="#000" stroke-width="1.7"/>
<circle cx="226" cy="513.4" r="3.0" fill="#fff" stroke="#000" stroke-width="1.7"/>
<circle cx="230.5" cy="512.1" r="3.0" fill="#fff" stroke="#000" stroke-width="1.7"/>
<circle cx="223.9" cy="524.9" r="3.0" fill="#fff" stroke="#000" stroke-width="1.7"/>
<circle cx="232.8" cy="524.9" r="3.0" fill="#fff" stroke="#000" stroke-width="1.7"/>
<circle cx="228.3" cy="608.2" r="3.0" fill="#fff" stroke="#000" stroke-width="1.7"/>
<line x1="253.1" y1="480.1" x2="253.1" y2="575.7" stroke="#000" stroke-width="1.8"/>
<line x1="247" y1="480.1" x2="259" y2="480.1" stroke="#000" stroke-width="1.8"/>
<line x1="247" y1="575.7" x2="259" y2="575.7" stroke="#000" stroke-width="1.8"/>
<line x1="244.7" y1="528.1" x2="261.6" y2="528.1" stroke="#000" stroke-width="2"/>
<circle cx="249.2" cy="457.3" r="3" fill="#000"/>
<circle cx="257.2" cy="458.7" r="3" fill="#000"/>
<circle cx="249.2" cy="472.5" r="3" fill="#000"/>
<circle cx="257.2" cy="472.1" r="3" fill="#000"/>
<circle cx="249.2" cy="481.5" r="3" fill="#000"/>
<circle cx="257.2" cy="480.5" r="3" fill="#000"/>
<circle cx="252.7" cy="486.3" r="3" fill="#000"/>
<circle cx="249.2" cy="511" r="3" fill="#000"/>
<circle cx="257.2" cy="512.1" r="3" fill="#000"/>
<circle cx="253.1" cy="519.2" r="3" fill="#000"/>
<circle cx="253.1" cy="529.9" r="3" fill="#000"/>
<circle cx="253.1" cy="541.3" r="3" fill="#000"/>
<circle cx="248.8" cy="553" r="3" fill="#000"/>
<circle cx="257.2" cy="552.5" r="3" fill="#000"/>
<circle cx="253.1" cy="553" r="3" fill="#000"/>
<circle cx="248.8" cy="563.2" r="3" fill="#000"/>
<circle cx="257.2" cy="560.5" r="3" fill="#000"/>
<circle cx="253.1" cy="580.1" r="3" fill="#000"/>
<circle cx="253.1" cy="589.9" r="3" fill="#000"/>
<circle cx="253.1" cy="600.6" r="3" fill="#000"/>
<circle cx="253.1" cy="611.3" r="3" fill="#000"/>
</g>
</svg></body></html>
